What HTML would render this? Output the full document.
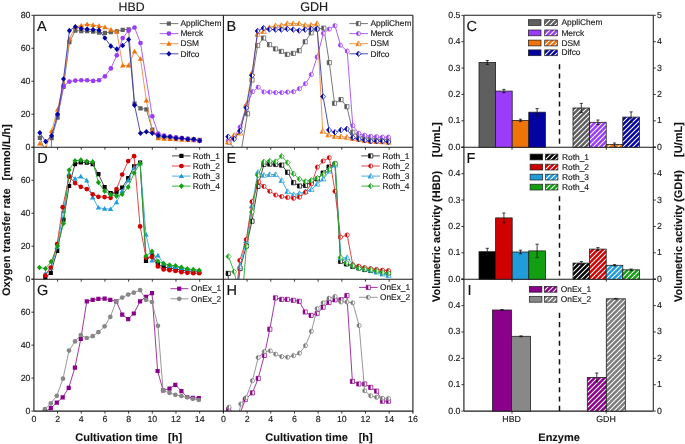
<!DOCTYPE html>
<html><head><meta charset="utf-8"><title>Figure</title>
<style>
html,body{margin:0;padding:0;background:#fff;}
body{width:685px;height:444px;overflow:hidden;}
svg{display:block;font-family:"Liberation Sans", sans-serif;will-change:transform;text-rendering:geometricPrecision;}
</style></head><body>
<svg width="685" height="444" viewBox="0 0 685 444"><defs><clipPath id="c00"><rect x="33.9" y="15.3" width="189.5" height="131.9"/></clipPath><clipPath id="c01"><rect x="33.9" y="147.2" width="189.5" height="132"/></clipPath><clipPath id="c02"><rect x="33.9" y="279.2" width="189.5" height="131.9"/></clipPath><clipPath id="c10"><rect x="223.4" y="15.3" width="189.5" height="131.9"/></clipPath><clipPath id="c11"><rect x="223.4" y="147.2" width="189.5" height="132"/></clipPath><clipPath id="c12"><rect x="223.4" y="279.2" width="189.5" height="131.9"/></clipPath><pattern id="hGray" patternUnits="userSpaceOnUse" width="5.0" height="5.0"><rect width="5.0" height="5.0" fill="#5e5e5e"/><path d="M-1,1 L1,-1 M0,5.0 L5.0,0 M4.0,6.0 L6.0,4.0" stroke="#ffffff" stroke-width="1.1"/></pattern><pattern id="hVio" patternUnits="userSpaceOnUse" width="5.0" height="5.0"><rect width="5.0" height="5.0" fill="#9a3cfa"/><path d="M-1,1 L1,-1 M0,5.0 L5.0,0 M4.0,6.0 L6.0,4.0" stroke="#ffffff" stroke-width="1.1"/></pattern><pattern id="hOra" patternUnits="userSpaceOnUse" width="5.0" height="5.0"><rect width="5.0" height="5.0" fill="#f07308"/><path d="M-1,1 L1,-1 M0,5.0 L5.0,0 M4.0,6.0 L6.0,4.0" stroke="#ffffff" stroke-width="1.1"/></pattern><pattern id="hNav" patternUnits="userSpaceOnUse" width="5.0" height="5.0"><rect width="5.0" height="5.0" fill="#0303a2"/><path d="M-1,1 L1,-1 M0,5.0 L5.0,0 M4.0,6.0 L6.0,4.0" stroke="#ffffff" stroke-width="1.1"/></pattern><pattern id="hBlk" patternUnits="userSpaceOnUse" width="5.0" height="5.0"><rect width="5.0" height="5.0" fill="#000000"/><path d="M-1,1 L1,-1 M0,5.0 L5.0,0 M4.0,6.0 L6.0,4.0" stroke="#ffffff" stroke-width="1.1"/></pattern><pattern id="hRed" patternUnits="userSpaceOnUse" width="5.0" height="5.0"><rect width="5.0" height="5.0" fill="#d10000"/><path d="M-1,1 L1,-1 M0,5.0 L5.0,0 M4.0,6.0 L6.0,4.0" stroke="#ffffff" stroke-width="1.1"/></pattern><pattern id="hCya" patternUnits="userSpaceOnUse" width="5.0" height="5.0"><rect width="5.0" height="5.0" fill="#1f9cd9"/><path d="M-1,1 L1,-1 M0,5.0 L5.0,0 M4.0,6.0 L6.0,4.0" stroke="#ffffff" stroke-width="1.1"/></pattern><pattern id="hGrn" patternUnits="userSpaceOnUse" width="5.0" height="5.0"><rect width="5.0" height="5.0" fill="#12a012"/><path d="M-1,1 L1,-1 M0,5.0 L5.0,0 M4.0,6.0 L6.0,4.0" stroke="#ffffff" stroke-width="1.1"/></pattern><pattern id="hMag" patternUnits="userSpaceOnUse" width="5.0" height="5.0"><rect width="5.0" height="5.0" fill="#8a008a"/><path d="M-1,1 L1,-1 M0,5.0 L5.0,0 M4.0,6.0 L6.0,4.0" stroke="#ffffff" stroke-width="1.1"/></pattern><pattern id="hGr2" patternUnits="userSpaceOnUse" width="5.0" height="5.0"><rect width="5.0" height="5.0" fill="#7c7c7c"/><path d="M-1,1 L1,-1 M0,5.0 L5.0,0 M4.0,6.0 L6.0,4.0" stroke="#ffffff" stroke-width="1.1"/></pattern></defs><rect width="685" height="444" fill="#ffffff"/><g clip-path="url(#c00)"><path d="M39.82,137.8 L45.74,152.15 L51.07,152.15 L51.66,138.13 L57.58,117.69 L63.5,87.02 L69.42,42.17 L75.34,30.63 L81.26,31.13 L87.18,31.13 L93.1,31.62 L99.02,32.61 L104.94,32.94 L110.86,32.12 L116.78,31.46 L122.7,29.81 L128.62,29.31 L134.54,103.51 L140.46,108.45 L146.38,109.44 L152.3,129.56 L158.22,136.81 L164.14,137.31 L170.06,137.64 L175.98,138.13 L181.9,138.46 L187.82,138.96 L193.74,139.29 L199.66,139.78" fill="none" stroke="#6a6a6a" stroke-width="0.9" stroke-linejoin="round"/><polygon points="37.72,135.7 41.92,135.7 41.92,139.9 37.72,139.9" fill="#5f5f5f"/><polygon points="43.64,150.05 47.84,150.05 47.84,154.25 43.64,154.25" fill="#5f5f5f"/><polygon points="49.56,136.03 53.76,136.03 53.76,140.23 49.56,140.23" fill="#5f5f5f"/><polygon points="55.48,115.59 59.68,115.59 59.68,119.79 55.48,119.79" fill="#5f5f5f"/><polygon points="61.4,84.92 65.6,84.92 65.6,89.12 61.4,89.12" fill="#5f5f5f"/><polygon points="67.32,40.07 71.52,40.07 71.52,44.27 67.32,44.27" fill="#5f5f5f"/><polygon points="73.24,28.53 77.44,28.53 77.44,32.73 73.24,32.73" fill="#5f5f5f"/><polygon points="79.16,29.03 83.36,29.03 83.36,33.23 79.16,33.23" fill="#5f5f5f"/><polygon points="85.08,29.03 89.28,29.03 89.28,33.23 85.08,33.23" fill="#5f5f5f"/><polygon points="91,29.52 95.2,29.52 95.2,33.72 91,33.72" fill="#5f5f5f"/><polygon points="96.92,30.51 101.12,30.51 101.12,34.71 96.92,34.71" fill="#5f5f5f"/><polygon points="102.84,30.84 107.04,30.84 107.04,35.04 102.84,35.04" fill="#5f5f5f"/><polygon points="108.76,30.02 112.96,30.02 112.96,34.22 108.76,34.22" fill="#5f5f5f"/><polygon points="114.68,29.36 118.88,29.36 118.88,33.56 114.68,33.56" fill="#5f5f5f"/><polygon points="120.6,27.71 124.8,27.71 124.8,31.91 120.6,31.91" fill="#5f5f5f"/><polygon points="126.52,27.21 130.72,27.21 130.72,31.41 126.52,31.41" fill="#5f5f5f"/><polygon points="132.44,101.41 136.64,101.41 136.64,105.61 132.44,105.61" fill="#5f5f5f"/><polygon points="138.36,106.35 142.56,106.35 142.56,110.55 138.36,110.55" fill="#5f5f5f"/><polygon points="144.28,107.34 148.48,107.34 148.48,111.54 144.28,111.54" fill="#5f5f5f"/><polygon points="150.2,127.46 154.4,127.46 154.4,131.66 150.2,131.66" fill="#5f5f5f"/><polygon points="156.12,134.71 160.32,134.71 160.32,138.91 156.12,138.91" fill="#5f5f5f"/><polygon points="162.04,135.21 166.24,135.21 166.24,139.41 162.04,139.41" fill="#5f5f5f"/><polygon points="167.96,135.54 172.16,135.54 172.16,139.74 167.96,139.74" fill="#5f5f5f"/><polygon points="173.88,136.03 178.08,136.03 178.08,140.23 173.88,140.23" fill="#5f5f5f"/><polygon points="179.8,136.36 184,136.36 184,140.56 179.8,140.56" fill="#5f5f5f"/><polygon points="185.72,136.86 189.92,136.86 189.92,141.06 185.72,141.06" fill="#5f5f5f"/><polygon points="191.64,137.19 195.84,137.19 195.84,141.39 191.64,141.39" fill="#5f5f5f"/><polygon points="197.56,137.68 201.76,137.68 201.76,141.88 197.56,141.88" fill="#5f5f5f"/></g><g clip-path="url(#c00)"><path d="M39.82,143.57 L45.74,148.02 L51.66,131.04 L57.58,109.44 L63.5,83.56 L69.42,38.88 L75.34,27.01 L81.26,25.52 L87.18,24.2 L93.1,25.03 L99.02,26.02 L104.94,27.17 L110.86,29.81 L116.78,31.79 L122.7,65.42 L128.62,65.42 L134.54,51.41 L140.46,58.83 L146.38,100.54 L152.3,130.71 L158.22,138.13 L164.14,138.63 L170.06,138.96 L175.98,139.29 L181.9,139.62 L187.82,139.95 L193.74,140.28 L199.66,140.6" fill="none" stroke="#ef8a3a" stroke-width="0.9" stroke-linejoin="round"/><polygon points="39.82,140.87 42.52,145.6 37.12,145.6" fill="#f07308"/><polygon points="45.74,145.32 48.44,150.05 43.04,150.05" fill="#f07308"/><polygon points="51.66,128.34 54.36,133.07 48.96,133.07" fill="#f07308"/><polygon points="57.58,106.74 60.28,111.47 54.88,111.47" fill="#f07308"/><polygon points="63.5,80.86 66.2,85.58 60.8,85.58" fill="#f07308"/><polygon points="69.42,36.18 72.12,40.9 66.72,40.9" fill="#f07308"/><polygon points="75.34,24.31 78.04,29.03 72.64,29.03" fill="#f07308"/><polygon points="81.26,22.82 83.96,27.55 78.56,27.55" fill="#f07308"/><polygon points="87.18,21.5 89.88,26.23 84.48,26.23" fill="#f07308"/><polygon points="93.1,22.33 95.8,27.05 90.4,27.05" fill="#f07308"/><polygon points="99.02,23.32 101.72,28.04 96.32,28.04" fill="#f07308"/><polygon points="104.94,24.47 107.64,29.2 102.24,29.2" fill="#f07308"/><polygon points="110.86,27.11 113.56,31.83 108.16,31.83" fill="#f07308"/><polygon points="116.78,29.09 119.48,33.81 114.08,33.81" fill="#f07308"/><polygon points="122.7,62.72 125.4,67.45 120,67.45" fill="#f07308"/><polygon points="128.62,62.72 131.32,67.45 125.92,67.45" fill="#f07308"/><polygon points="134.54,48.71 137.24,53.43 131.84,53.43" fill="#f07308"/><polygon points="140.46,56.13 143.16,60.85 137.76,60.85" fill="#f07308"/><polygon points="146.38,97.84 149.08,102.57 143.68,102.57" fill="#f07308"/><polygon points="152.3,128.01 155,132.74 149.6,132.74" fill="#f07308"/><polygon points="158.22,135.43 160.92,140.16 155.52,140.16" fill="#f07308"/><polygon points="164.14,135.93 166.84,140.65 161.44,140.65" fill="#f07308"/><polygon points="170.06,136.26 172.76,140.98 167.36,140.98" fill="#f07308"/><polygon points="175.98,136.59 178.68,141.31 173.28,141.31" fill="#f07308"/><polygon points="181.9,136.92 184.6,141.64 179.2,141.64" fill="#f07308"/><polygon points="187.82,137.25 190.52,141.97 185.12,141.97" fill="#f07308"/><polygon points="193.74,137.58 196.44,142.3 191.04,142.3" fill="#f07308"/><polygon points="199.66,137.91 202.36,142.63 196.96,142.63" fill="#f07308"/></g><g clip-path="url(#c00)"><path d="M57.58,114.55 L63.5,86.2 L69.42,81.58 L75.34,80.59 L81.26,80.26 L87.18,80.26 L93.1,80.92 L99.02,80.26 L104.94,76.3 L110.86,68.39 L116.78,55.36 L122.7,38.05 L128.62,30.63 L134.54,27.5 L140.46,43 L152.3,116.37 L158.22,133.52 L164.14,135.66 L170.06,136.48 L175.98,137.31 L181.9,138.13 L187.82,138.96 L193.74,139.78 L199.66,140.6" fill="none" stroke="#a550f5" stroke-width="0.9" stroke-linejoin="round"/><circle cx="57.58" cy="114.55" r="2.35" fill="#9a3cfa"/><circle cx="63.5" cy="86.2" r="2.35" fill="#9a3cfa"/><circle cx="69.42" cy="81.58" r="2.35" fill="#9a3cfa"/><circle cx="75.34" cy="80.59" r="2.35" fill="#9a3cfa"/><circle cx="81.26" cy="80.26" r="2.35" fill="#9a3cfa"/><circle cx="87.18" cy="80.26" r="2.35" fill="#9a3cfa"/><circle cx="93.1" cy="80.92" r="2.35" fill="#9a3cfa"/><circle cx="99.02" cy="80.26" r="2.35" fill="#9a3cfa"/><circle cx="104.94" cy="76.3" r="2.35" fill="#9a3cfa"/><circle cx="110.86" cy="68.39" r="2.35" fill="#9a3cfa"/><circle cx="116.78" cy="55.36" r="2.35" fill="#9a3cfa"/><circle cx="122.7" cy="38.05" r="2.35" fill="#9a3cfa"/><circle cx="128.62" cy="30.63" r="2.35" fill="#9a3cfa"/><circle cx="134.54" cy="27.5" r="2.35" fill="#9a3cfa"/><circle cx="140.46" cy="43" r="2.35" fill="#9a3cfa"/><circle cx="152.3" cy="116.37" r="2.35" fill="#9a3cfa"/><circle cx="158.22" cy="133.52" r="2.35" fill="#9a3cfa"/><circle cx="164.14" cy="135.66" r="2.35" fill="#9a3cfa"/><circle cx="170.06" cy="136.48" r="2.35" fill="#9a3cfa"/><circle cx="175.98" cy="137.31" r="2.35" fill="#9a3cfa"/><circle cx="181.9" cy="138.13" r="2.35" fill="#9a3cfa"/><circle cx="187.82" cy="138.96" r="2.35" fill="#9a3cfa"/><circle cx="193.74" cy="139.78" r="2.35" fill="#9a3cfa"/><circle cx="199.66" cy="140.6" r="2.35" fill="#9a3cfa"/></g><g clip-path="url(#c00)"><path d="M39.82,132.86 L45.74,141.59 L51.66,135.66 L57.58,114.22 L63.5,78.94 L69.42,30.63 L75.34,26.68 L81.26,28.49 L87.18,29.15 L93.1,29.64 L99.02,30.14 L104.94,38.05 L110.86,46.13 L116.78,49.1 L122.7,45.47 L128.62,39.54 L134.54,105.16 L140.46,133.19 L146.38,131.7 L152.3,133.19 L158.22,135.49 L164.14,136.48 L170.06,136.81 L175.98,138.13 L181.9,138.3 L187.82,139.29 L193.74,139.29 L199.66,140.77" fill="none" stroke="#3a3aa8" stroke-width="0.9" stroke-linejoin="round"/><polygon points="39.82,130.06 42.34,132.86 39.82,135.66 37.3,132.86" fill="#0303a2"/><polygon points="45.74,138.79 48.26,141.59 45.74,144.39 43.22,141.59" fill="#0303a2"/><polygon points="51.66,132.86 54.18,135.66 51.66,138.46 49.14,135.66" fill="#0303a2"/><polygon points="57.58,111.42 60.1,114.22 57.58,117.02 55.06,114.22" fill="#0303a2"/><polygon points="63.5,76.14 66.02,78.94 63.5,81.74 60.98,78.94" fill="#0303a2"/><polygon points="69.42,27.83 71.94,30.63 69.42,33.43 66.9,30.63" fill="#0303a2"/><polygon points="75.34,23.88 77.86,26.68 75.34,29.48 72.82,26.68" fill="#0303a2"/><polygon points="81.26,25.69 83.78,28.49 81.26,31.29 78.74,28.49" fill="#0303a2"/><polygon points="87.18,26.35 89.7,29.15 87.18,31.95 84.66,29.15" fill="#0303a2"/><polygon points="93.1,26.84 95.62,29.64 93.1,32.44 90.58,29.64" fill="#0303a2"/><polygon points="99.02,27.34 101.54,30.14 99.02,32.94 96.5,30.14" fill="#0303a2"/><polygon points="104.94,35.25 107.46,38.05 104.94,40.85 102.42,38.05" fill="#0303a2"/><polygon points="110.86,43.33 113.38,46.13 110.86,48.93 108.34,46.13" fill="#0303a2"/><polygon points="116.78,46.3 119.3,49.1 116.78,51.9 114.26,49.1" fill="#0303a2"/><polygon points="122.7,42.67 125.22,45.47 122.7,48.27 120.18,45.47" fill="#0303a2"/><polygon points="128.62,36.74 131.14,39.54 128.62,42.34 126.1,39.54" fill="#0303a2"/><polygon points="134.54,102.36 137.06,105.16 134.54,107.96 132.02,105.16" fill="#0303a2"/><polygon points="140.46,130.39 142.98,133.19 140.46,135.99 137.94,133.19" fill="#0303a2"/><polygon points="146.38,128.9 148.9,131.7 146.38,134.5 143.86,131.7" fill="#0303a2"/><polygon points="152.3,130.39 154.82,133.19 152.3,135.99 149.78,133.19" fill="#0303a2"/><polygon points="158.22,132.69 160.74,135.49 158.22,138.29 155.7,135.49" fill="#0303a2"/><polygon points="164.14,133.68 166.66,136.48 164.14,139.28 161.62,136.48" fill="#0303a2"/><polygon points="170.06,134.01 172.58,136.81 170.06,139.61 167.54,136.81" fill="#0303a2"/><polygon points="175.98,135.33 178.5,138.13 175.98,140.93 173.46,138.13" fill="#0303a2"/><polygon points="181.9,135.5 184.42,138.3 181.9,141.1 179.38,138.3" fill="#0303a2"/><polygon points="187.82,136.49 190.34,139.29 187.82,142.09 185.3,139.29" fill="#0303a2"/><polygon points="193.74,136.49 196.26,139.29 193.74,142.09 191.22,139.29" fill="#0303a2"/><polygon points="199.66,137.97 202.18,140.77 199.66,143.57 197.14,140.77" fill="#0303a2"/></g><g clip-path="url(#c10)"><path d="M229,142 L235,149 L241.5,149 L247.5,113.7 L252,80 L257.6,45.5 L263.6,38 L269.5,44.7 L275.5,48.9 L281.4,51.4 L287.3,54.4 L293.3,53.4 L299.2,50.7 L305.2,41.8 L311.1,32.8 L317.1,29 L323.8,28.1 L329.3,62.6 L334.5,103.3 L341,99.6 L346.9,106.7 L352.8,132.3 L358.8,136 L364.7,137.5 L370.7,138.5 L376.6,139 L382.5,139.5 L388.5,140" fill="none" stroke="#6a6a6a" stroke-width="0.9" stroke-linejoin="round"/><polygon points="226.9,139.9 231.1,139.9 231.1,144.1 226.9,144.1" fill="#fff" stroke="#555555" stroke-width="0.7"/><polygon points="226.9,139.9 229,139.9 229,144.1 226.9,144.1" fill="#555555"/><polygon points="245.4,111.6 249.6,111.6 249.6,115.8 245.4,115.8" fill="#fff" stroke="#555555" stroke-width="0.7"/><polygon points="245.4,111.6 247.5,111.6 247.5,115.8 245.4,115.8" fill="#555555"/><polygon points="249.9,77.9 254.1,77.9 254.1,82.1 249.9,82.1" fill="#fff" stroke="#555555" stroke-width="0.7"/><polygon points="249.9,77.9 252,77.9 252,82.1 249.9,82.1" fill="#555555"/><polygon points="255.5,43.4 259.7,43.4 259.7,47.6 255.5,47.6" fill="#fff" stroke="#555555" stroke-width="0.7"/><polygon points="255.5,43.4 257.6,43.4 257.6,47.6 255.5,47.6" fill="#555555"/><polygon points="261.5,35.9 265.7,35.9 265.7,40.1 261.5,40.1" fill="#fff" stroke="#555555" stroke-width="0.7"/><polygon points="261.5,35.9 263.6,35.9 263.6,40.1 261.5,40.1" fill="#555555"/><polygon points="267.4,42.6 271.6,42.6 271.6,46.8 267.4,46.8" fill="#fff" stroke="#555555" stroke-width="0.7"/><polygon points="267.4,42.6 269.5,42.6 269.5,46.8 267.4,46.8" fill="#555555"/><polygon points="273.4,46.8 277.6,46.8 277.6,51 273.4,51" fill="#fff" stroke="#555555" stroke-width="0.7"/><polygon points="273.4,46.8 275.5,46.8 275.5,51 273.4,51" fill="#555555"/><polygon points="279.3,49.3 283.5,49.3 283.5,53.5 279.3,53.5" fill="#fff" stroke="#555555" stroke-width="0.7"/><polygon points="279.3,49.3 281.4,49.3 281.4,53.5 279.3,53.5" fill="#555555"/><polygon points="285.2,52.3 289.4,52.3 289.4,56.5 285.2,56.5" fill="#fff" stroke="#555555" stroke-width="0.7"/><polygon points="285.2,52.3 287.3,52.3 287.3,56.5 285.2,56.5" fill="#555555"/><polygon points="291.2,51.3 295.4,51.3 295.4,55.5 291.2,55.5" fill="#fff" stroke="#555555" stroke-width="0.7"/><polygon points="291.2,51.3 293.3,51.3 293.3,55.5 291.2,55.5" fill="#555555"/><polygon points="297.1,48.6 301.3,48.6 301.3,52.8 297.1,52.8" fill="#fff" stroke="#555555" stroke-width="0.7"/><polygon points="297.1,48.6 299.2,48.6 299.2,52.8 297.1,52.8" fill="#555555"/><polygon points="303.1,39.7 307.3,39.7 307.3,43.9 303.1,43.9" fill="#fff" stroke="#555555" stroke-width="0.7"/><polygon points="303.1,39.7 305.2,39.7 305.2,43.9 303.1,43.9" fill="#555555"/><polygon points="309,30.7 313.2,30.7 313.2,34.9 309,34.9" fill="#fff" stroke="#555555" stroke-width="0.7"/><polygon points="309,30.7 311.1,30.7 311.1,34.9 309,34.9" fill="#555555"/><polygon points="315,26.9 319.2,26.9 319.2,31.1 315,31.1" fill="#fff" stroke="#555555" stroke-width="0.7"/><polygon points="315,26.9 317.1,26.9 317.1,31.1 315,31.1" fill="#555555"/><polygon points="321.7,26 325.9,26 325.9,30.2 321.7,30.2" fill="#fff" stroke="#555555" stroke-width="0.7"/><polygon points="321.7,26 323.8,26 323.8,30.2 321.7,30.2" fill="#555555"/><polygon points="327.2,60.5 331.4,60.5 331.4,64.7 327.2,64.7" fill="#fff" stroke="#555555" stroke-width="0.7"/><polygon points="327.2,60.5 329.3,60.5 329.3,64.7 327.2,64.7" fill="#555555"/><polygon points="332.4,101.2 336.6,101.2 336.6,105.4 332.4,105.4" fill="#fff" stroke="#555555" stroke-width="0.7"/><polygon points="332.4,101.2 334.5,101.2 334.5,105.4 332.4,105.4" fill="#555555"/><polygon points="338.9,97.5 343.1,97.5 343.1,101.7 338.9,101.7" fill="#fff" stroke="#555555" stroke-width="0.7"/><polygon points="338.9,97.5 341,97.5 341,101.7 338.9,101.7" fill="#555555"/><polygon points="344.8,104.6 349,104.6 349,108.8 344.8,108.8" fill="#fff" stroke="#555555" stroke-width="0.7"/><polygon points="344.8,104.6 346.9,104.6 346.9,108.8 344.8,108.8" fill="#555555"/><polygon points="350.7,130.2 354.9,130.2 354.9,134.4 350.7,134.4" fill="#fff" stroke="#555555" stroke-width="0.7"/><polygon points="350.7,130.2 352.8,130.2 352.8,134.4 350.7,134.4" fill="#555555"/><polygon points="356.7,133.9 360.9,133.9 360.9,138.1 356.7,138.1" fill="#fff" stroke="#555555" stroke-width="0.7"/><polygon points="356.7,133.9 358.8,133.9 358.8,138.1 356.7,138.1" fill="#555555"/><polygon points="362.6,135.4 366.8,135.4 366.8,139.6 362.6,139.6" fill="#fff" stroke="#555555" stroke-width="0.7"/><polygon points="362.6,135.4 364.7,135.4 364.7,139.6 362.6,139.6" fill="#555555"/><polygon points="368.6,136.4 372.8,136.4 372.8,140.6 368.6,140.6" fill="#fff" stroke="#555555" stroke-width="0.7"/><polygon points="368.6,136.4 370.7,136.4 370.7,140.6 368.6,140.6" fill="#555555"/><polygon points="374.5,136.9 378.7,136.9 378.7,141.1 374.5,141.1" fill="#fff" stroke="#555555" stroke-width="0.7"/><polygon points="374.5,136.9 376.6,136.9 376.6,141.1 374.5,141.1" fill="#555555"/><polygon points="380.4,137.4 384.6,137.4 384.6,141.6 380.4,141.6" fill="#fff" stroke="#555555" stroke-width="0.7"/><polygon points="380.4,137.4 382.5,137.4 382.5,141.6 380.4,141.6" fill="#555555"/><polygon points="386.4,137.9 390.6,137.9 390.6,142.1 386.4,142.1" fill="#fff" stroke="#555555" stroke-width="0.7"/><polygon points="386.4,137.9 388.5,137.9 388.5,142.1 386.4,142.1" fill="#555555"/></g><g clip-path="url(#c10)"><path d="M228.2,141 L234.1,137 L240.1,127.1 L246.3,106 L252.7,91.7 L258.2,87.2 L263.9,91.9 L269.8,92.1 L275.7,92.6 L281.7,92.6 L287.6,92.1 L293.6,91.7 L299.5,88.7 L305.5,83.7 L311.4,74.5 L317.1,57 L323.4,33.3 L329.3,29.1 L335,25.7 L340.5,45.2 L347.2,51.1 L352.8,125.6 L358.8,133.3 L364.7,135.3 L370.7,136.3 L376.6,136.7 L382.5,137.2 L388.5,137.2" fill="none" stroke="#a550f5" stroke-width="0.9" stroke-linejoin="round"/><circle cx="228.2" cy="141" r="2.1" fill="#fff" stroke="#9a3cfa" stroke-width="0.7"/><path d="M228.2,138.9 A2.1,2.1 0 0 0 228.2,143.1 Z" fill="#9a3cfa"/><circle cx="234.1" cy="137" r="2.1" fill="#fff" stroke="#9a3cfa" stroke-width="0.7"/><path d="M234.1,134.9 A2.1,2.1 0 0 0 234.1,139.1 Z" fill="#9a3cfa"/><circle cx="240.1" cy="127.1" r="2.1" fill="#fff" stroke="#9a3cfa" stroke-width="0.7"/><path d="M240.1,125 A2.1,2.1 0 0 0 240.1,129.2 Z" fill="#9a3cfa"/><circle cx="246.3" cy="106" r="2.1" fill="#fff" stroke="#9a3cfa" stroke-width="0.7"/><path d="M246.3,103.9 A2.1,2.1 0 0 0 246.3,108.1 Z" fill="#9a3cfa"/><circle cx="252.7" cy="91.7" r="2.1" fill="#fff" stroke="#9a3cfa" stroke-width="0.7"/><path d="M252.7,89.6 A2.1,2.1 0 0 0 252.7,93.8 Z" fill="#9a3cfa"/><circle cx="258.2" cy="87.2" r="2.1" fill="#fff" stroke="#9a3cfa" stroke-width="0.7"/><path d="M258.2,85.1 A2.1,2.1 0 0 0 258.2,89.3 Z" fill="#9a3cfa"/><circle cx="263.9" cy="91.9" r="2.1" fill="#fff" stroke="#9a3cfa" stroke-width="0.7"/><path d="M263.9,89.8 A2.1,2.1 0 0 0 263.9,94 Z" fill="#9a3cfa"/><circle cx="269.8" cy="92.1" r="2.1" fill="#fff" stroke="#9a3cfa" stroke-width="0.7"/><path d="M269.8,90 A2.1,2.1 0 0 0 269.8,94.2 Z" fill="#9a3cfa"/><circle cx="275.7" cy="92.6" r="2.1" fill="#fff" stroke="#9a3cfa" stroke-width="0.7"/><path d="M275.7,90.5 A2.1,2.1 0 0 0 275.7,94.7 Z" fill="#9a3cfa"/><circle cx="281.7" cy="92.6" r="2.1" fill="#fff" stroke="#9a3cfa" stroke-width="0.7"/><path d="M281.7,90.5 A2.1,2.1 0 0 0 281.7,94.7 Z" fill="#9a3cfa"/><circle cx="287.6" cy="92.1" r="2.1" fill="#fff" stroke="#9a3cfa" stroke-width="0.7"/><path d="M287.6,90 A2.1,2.1 0 0 0 287.6,94.2 Z" fill="#9a3cfa"/><circle cx="293.6" cy="91.7" r="2.1" fill="#fff" stroke="#9a3cfa" stroke-width="0.7"/><path d="M293.6,89.6 A2.1,2.1 0 0 0 293.6,93.8 Z" fill="#9a3cfa"/><circle cx="299.5" cy="88.7" r="2.1" fill="#fff" stroke="#9a3cfa" stroke-width="0.7"/><path d="M299.5,86.6 A2.1,2.1 0 0 0 299.5,90.8 Z" fill="#9a3cfa"/><circle cx="305.5" cy="83.7" r="2.1" fill="#fff" stroke="#9a3cfa" stroke-width="0.7"/><path d="M305.5,81.6 A2.1,2.1 0 0 0 305.5,85.8 Z" fill="#9a3cfa"/><circle cx="311.4" cy="74.5" r="2.1" fill="#fff" stroke="#9a3cfa" stroke-width="0.7"/><path d="M311.4,72.4 A2.1,2.1 0 0 0 311.4,76.6 Z" fill="#9a3cfa"/><circle cx="317.1" cy="57" r="2.1" fill="#fff" stroke="#9a3cfa" stroke-width="0.7"/><path d="M317.1,54.9 A2.1,2.1 0 0 0 317.1,59.1 Z" fill="#9a3cfa"/><circle cx="323.4" cy="33.3" r="2.1" fill="#fff" stroke="#9a3cfa" stroke-width="0.7"/><path d="M323.4,31.2 A2.1,2.1 0 0 0 323.4,35.4 Z" fill="#9a3cfa"/><circle cx="329.3" cy="29.1" r="2.1" fill="#fff" stroke="#9a3cfa" stroke-width="0.7"/><path d="M329.3,27 A2.1,2.1 0 0 0 329.3,31.2 Z" fill="#9a3cfa"/><circle cx="335" cy="25.7" r="2.1" fill="#fff" stroke="#9a3cfa" stroke-width="0.7"/><path d="M335,23.6 A2.1,2.1 0 0 0 335,27.8 Z" fill="#9a3cfa"/><circle cx="340.5" cy="45.2" r="2.1" fill="#fff" stroke="#9a3cfa" stroke-width="0.7"/><path d="M340.5,43.1 A2.1,2.1 0 0 0 340.5,47.3 Z" fill="#9a3cfa"/><circle cx="347.2" cy="51.1" r="2.1" fill="#fff" stroke="#9a3cfa" stroke-width="0.7"/><path d="M347.2,49 A2.1,2.1 0 0 0 347.2,53.2 Z" fill="#9a3cfa"/><circle cx="352.8" cy="125.6" r="2.1" fill="#fff" stroke="#9a3cfa" stroke-width="0.7"/><path d="M352.8,123.5 A2.1,2.1 0 0 0 352.8,127.7 Z" fill="#9a3cfa"/><circle cx="358.8" cy="133.3" r="2.1" fill="#fff" stroke="#9a3cfa" stroke-width="0.7"/><path d="M358.8,131.2 A2.1,2.1 0 0 0 358.8,135.4 Z" fill="#9a3cfa"/><circle cx="364.7" cy="135.3" r="2.1" fill="#fff" stroke="#9a3cfa" stroke-width="0.7"/><path d="M364.7,133.2 A2.1,2.1 0 0 0 364.7,137.4 Z" fill="#9a3cfa"/><circle cx="370.7" cy="136.3" r="2.1" fill="#fff" stroke="#9a3cfa" stroke-width="0.7"/><path d="M370.7,134.2 A2.1,2.1 0 0 0 370.7,138.4 Z" fill="#9a3cfa"/><circle cx="376.6" cy="136.7" r="2.1" fill="#fff" stroke="#9a3cfa" stroke-width="0.7"/><path d="M376.6,134.6 A2.1,2.1 0 0 0 376.6,138.8 Z" fill="#9a3cfa"/><circle cx="382.5" cy="137.2" r="2.1" fill="#fff" stroke="#9a3cfa" stroke-width="0.7"/><path d="M382.5,135.1 A2.1,2.1 0 0 0 382.5,139.3 Z" fill="#9a3cfa"/><circle cx="388.5" cy="137.2" r="2.1" fill="#fff" stroke="#9a3cfa" stroke-width="0.7"/><path d="M388.5,135.1 A2.1,2.1 0 0 0 388.5,139.3 Z" fill="#9a3cfa"/></g><g clip-path="url(#c10)"><path d="M228.2,142 L234.1,135.3 L240.1,133 L246.3,104.8 L252,73 L257.6,34.3 L263.6,31.4 L269.5,27.6 L275.5,25.7 L281.4,25.4 L287.3,23.6 L293.3,23.6 L299.2,23.6 L305.2,25.1 L311.1,25.1 L317.1,23.6 L322.7,131.2 L328.6,134.8 L335,136.3 L341,136.7 L346.9,137.2 L352.8,138.5 L358.8,139.5 L364.7,140.5 L370.7,141.2 L376.6,141.5 L382.5,141.8 L388.5,142.2" fill="none" stroke="#ef8a3a" stroke-width="0.9" stroke-linejoin="round"/><polygon points="228.2,139.3 230.9,144.03 225.5,144.03" fill="#fff" stroke="#f07308" stroke-width="0.7"/><polygon points="228.2,139.3 228.2,144.03 225.5,144.03" fill="#f07308"/><polygon points="234.1,132.6 236.8,137.33 231.4,137.33" fill="#fff" stroke="#f07308" stroke-width="0.7"/><polygon points="234.1,132.6 234.1,137.33 231.4,137.33" fill="#f07308"/><polygon points="240.1,130.3 242.8,135.03 237.4,135.03" fill="#fff" stroke="#f07308" stroke-width="0.7"/><polygon points="240.1,130.3 240.1,135.03 237.4,135.03" fill="#f07308"/><polygon points="246.3,102.1 249,106.83 243.6,106.83" fill="#fff" stroke="#f07308" stroke-width="0.7"/><polygon points="246.3,102.1 246.3,106.83 243.6,106.83" fill="#f07308"/><polygon points="252,70.3 254.7,75.03 249.3,75.03" fill="#fff" stroke="#f07308" stroke-width="0.7"/><polygon points="252,70.3 252,75.03 249.3,75.03" fill="#f07308"/><polygon points="257.6,31.6 260.3,36.32 254.9,36.32" fill="#fff" stroke="#f07308" stroke-width="0.7"/><polygon points="257.6,31.6 257.6,36.32 254.9,36.32" fill="#f07308"/><polygon points="263.6,28.7 266.3,33.42 260.9,33.42" fill="#fff" stroke="#f07308" stroke-width="0.7"/><polygon points="263.6,28.7 263.6,33.42 260.9,33.42" fill="#f07308"/><polygon points="269.5,24.9 272.2,29.62 266.8,29.62" fill="#fff" stroke="#f07308" stroke-width="0.7"/><polygon points="269.5,24.9 269.5,29.62 266.8,29.62" fill="#f07308"/><polygon points="275.5,23 278.2,27.73 272.8,27.73" fill="#fff" stroke="#f07308" stroke-width="0.7"/><polygon points="275.5,23 275.5,27.73 272.8,27.73" fill="#f07308"/><polygon points="281.4,22.7 284.1,27.42 278.7,27.42" fill="#fff" stroke="#f07308" stroke-width="0.7"/><polygon points="281.4,22.7 281.4,27.42 278.7,27.42" fill="#f07308"/><polygon points="287.3,20.9 290,25.62 284.6,25.62" fill="#fff" stroke="#f07308" stroke-width="0.7"/><polygon points="287.3,20.9 287.3,25.62 284.6,25.62" fill="#f07308"/><polygon points="293.3,20.9 296,25.62 290.6,25.62" fill="#fff" stroke="#f07308" stroke-width="0.7"/><polygon points="293.3,20.9 293.3,25.62 290.6,25.62" fill="#f07308"/><polygon points="299.2,20.9 301.9,25.62 296.5,25.62" fill="#fff" stroke="#f07308" stroke-width="0.7"/><polygon points="299.2,20.9 299.2,25.62 296.5,25.62" fill="#f07308"/><polygon points="305.2,22.4 307.9,27.12 302.5,27.12" fill="#fff" stroke="#f07308" stroke-width="0.7"/><polygon points="305.2,22.4 305.2,27.12 302.5,27.12" fill="#f07308"/><polygon points="311.1,22.4 313.8,27.12 308.4,27.12" fill="#fff" stroke="#f07308" stroke-width="0.7"/><polygon points="311.1,22.4 311.1,27.12 308.4,27.12" fill="#f07308"/><polygon points="317.1,20.9 319.8,25.62 314.4,25.62" fill="#fff" stroke="#f07308" stroke-width="0.7"/><polygon points="317.1,20.9 317.1,25.62 314.4,25.62" fill="#f07308"/><polygon points="322.7,128.5 325.4,133.22 320,133.22" fill="#fff" stroke="#f07308" stroke-width="0.7"/><polygon points="322.7,128.5 322.7,133.22 320,133.22" fill="#f07308"/><polygon points="328.6,132.1 331.3,136.83 325.9,136.83" fill="#fff" stroke="#f07308" stroke-width="0.7"/><polygon points="328.6,132.1 328.6,136.83 325.9,136.83" fill="#f07308"/><polygon points="335,133.6 337.7,138.33 332.3,138.33" fill="#fff" stroke="#f07308" stroke-width="0.7"/><polygon points="335,133.6 335,138.33 332.3,138.33" fill="#f07308"/><polygon points="341,134 343.7,138.72 338.3,138.72" fill="#fff" stroke="#f07308" stroke-width="0.7"/><polygon points="341,134 341,138.72 338.3,138.72" fill="#f07308"/><polygon points="346.9,134.5 349.6,139.22 344.2,139.22" fill="#fff" stroke="#f07308" stroke-width="0.7"/><polygon points="346.9,134.5 346.9,139.22 344.2,139.22" fill="#f07308"/><polygon points="352.8,135.8 355.5,140.53 350.1,140.53" fill="#fff" stroke="#f07308" stroke-width="0.7"/><polygon points="352.8,135.8 352.8,140.53 350.1,140.53" fill="#f07308"/><polygon points="358.8,136.8 361.5,141.53 356.1,141.53" fill="#fff" stroke="#f07308" stroke-width="0.7"/><polygon points="358.8,136.8 358.8,141.53 356.1,141.53" fill="#f07308"/><polygon points="364.7,137.8 367.4,142.53 362,142.53" fill="#fff" stroke="#f07308" stroke-width="0.7"/><polygon points="364.7,137.8 364.7,142.53 362,142.53" fill="#f07308"/><polygon points="370.7,138.5 373.4,143.22 368,143.22" fill="#fff" stroke="#f07308" stroke-width="0.7"/><polygon points="370.7,138.5 370.7,143.22 368,143.22" fill="#f07308"/><polygon points="376.6,138.8 379.3,143.53 373.9,143.53" fill="#fff" stroke="#f07308" stroke-width="0.7"/><polygon points="376.6,138.8 376.6,143.53 373.9,143.53" fill="#f07308"/><polygon points="382.5,139.1 385.2,143.83 379.8,143.83" fill="#fff" stroke="#f07308" stroke-width="0.7"/><polygon points="382.5,139.1 382.5,143.83 379.8,143.83" fill="#f07308"/><polygon points="388.5,139.5 391.2,144.22 385.8,144.22" fill="#fff" stroke="#f07308" stroke-width="0.7"/><polygon points="388.5,139.5 388.5,144.22 385.8,144.22" fill="#f07308"/></g><g clip-path="url(#c10)"><path d="M228.2,136.7 L234.1,139 L240.1,130.8 L246.3,107.8 L252,75.5 L257.6,31 L263.6,28.1 L269.5,29.4 L275.5,29.6 L281.4,29.6 L287.3,28.9 L293.3,29.6 L299.2,30.6 L305.2,29.6 L311.1,29 L317.1,29 L323.1,96.6 L329,130 L335,132.3 L341,130 L346.9,129 L352.8,137.5 L358.8,139 L364.7,140.2 L370.7,141.2 L376.6,141.2 L382.5,141.2 L388.5,142" fill="none" stroke="#3a3aa8" stroke-width="0.9" stroke-linejoin="round"/><polygon points="228.2,133.9 230.72,136.7 228.2,139.5 225.68,136.7" fill="#fff" stroke="#0303a2" stroke-width="0.7"/><polygon points="228.2,133.9 228.2,139.5 225.68,136.7" fill="#0303a2"/><polygon points="234.1,136.2 236.62,139 234.1,141.8 231.58,139" fill="#fff" stroke="#0303a2" stroke-width="0.7"/><polygon points="234.1,136.2 234.1,141.8 231.58,139" fill="#0303a2"/><polygon points="240.1,128 242.62,130.8 240.1,133.6 237.58,130.8" fill="#fff" stroke="#0303a2" stroke-width="0.7"/><polygon points="240.1,128 240.1,133.6 237.58,130.8" fill="#0303a2"/><polygon points="246.3,105 248.82,107.8 246.3,110.6 243.78,107.8" fill="#fff" stroke="#0303a2" stroke-width="0.7"/><polygon points="246.3,105 246.3,110.6 243.78,107.8" fill="#0303a2"/><polygon points="252,72.7 254.52,75.5 252,78.3 249.48,75.5" fill="#fff" stroke="#0303a2" stroke-width="0.7"/><polygon points="252,72.7 252,78.3 249.48,75.5" fill="#0303a2"/><polygon points="257.6,28.2 260.12,31 257.6,33.8 255.08,31" fill="#fff" stroke="#0303a2" stroke-width="0.7"/><polygon points="257.6,28.2 257.6,33.8 255.08,31" fill="#0303a2"/><polygon points="263.6,25.3 266.12,28.1 263.6,30.9 261.08,28.1" fill="#fff" stroke="#0303a2" stroke-width="0.7"/><polygon points="263.6,25.3 263.6,30.9 261.08,28.1" fill="#0303a2"/><polygon points="269.5,26.6 272.02,29.4 269.5,32.2 266.98,29.4" fill="#fff" stroke="#0303a2" stroke-width="0.7"/><polygon points="269.5,26.6 269.5,32.2 266.98,29.4" fill="#0303a2"/><polygon points="275.5,26.8 278.02,29.6 275.5,32.4 272.98,29.6" fill="#fff" stroke="#0303a2" stroke-width="0.7"/><polygon points="275.5,26.8 275.5,32.4 272.98,29.6" fill="#0303a2"/><polygon points="281.4,26.8 283.92,29.6 281.4,32.4 278.88,29.6" fill="#fff" stroke="#0303a2" stroke-width="0.7"/><polygon points="281.4,26.8 281.4,32.4 278.88,29.6" fill="#0303a2"/><polygon points="287.3,26.1 289.82,28.9 287.3,31.7 284.78,28.9" fill="#fff" stroke="#0303a2" stroke-width="0.7"/><polygon points="287.3,26.1 287.3,31.7 284.78,28.9" fill="#0303a2"/><polygon points="293.3,26.8 295.82,29.6 293.3,32.4 290.78,29.6" fill="#fff" stroke="#0303a2" stroke-width="0.7"/><polygon points="293.3,26.8 293.3,32.4 290.78,29.6" fill="#0303a2"/><polygon points="299.2,27.8 301.72,30.6 299.2,33.4 296.68,30.6" fill="#fff" stroke="#0303a2" stroke-width="0.7"/><polygon points="299.2,27.8 299.2,33.4 296.68,30.6" fill="#0303a2"/><polygon points="305.2,26.8 307.72,29.6 305.2,32.4 302.68,29.6" fill="#fff" stroke="#0303a2" stroke-width="0.7"/><polygon points="305.2,26.8 305.2,32.4 302.68,29.6" fill="#0303a2"/><polygon points="311.1,26.2 313.62,29 311.1,31.8 308.58,29" fill="#fff" stroke="#0303a2" stroke-width="0.7"/><polygon points="311.1,26.2 311.1,31.8 308.58,29" fill="#0303a2"/><polygon points="317.1,26.2 319.62,29 317.1,31.8 314.58,29" fill="#fff" stroke="#0303a2" stroke-width="0.7"/><polygon points="317.1,26.2 317.1,31.8 314.58,29" fill="#0303a2"/><polygon points="323.1,93.8 325.62,96.6 323.1,99.4 320.58,96.6" fill="#fff" stroke="#0303a2" stroke-width="0.7"/><polygon points="323.1,93.8 323.1,99.4 320.58,96.6" fill="#0303a2"/><polygon points="329,127.2 331.52,130 329,132.8 326.48,130" fill="#fff" stroke="#0303a2" stroke-width="0.7"/><polygon points="329,127.2 329,132.8 326.48,130" fill="#0303a2"/><polygon points="335,129.5 337.52,132.3 335,135.1 332.48,132.3" fill="#fff" stroke="#0303a2" stroke-width="0.7"/><polygon points="335,129.5 335,135.1 332.48,132.3" fill="#0303a2"/><polygon points="341,127.2 343.52,130 341,132.8 338.48,130" fill="#fff" stroke="#0303a2" stroke-width="0.7"/><polygon points="341,127.2 341,132.8 338.48,130" fill="#0303a2"/><polygon points="346.9,126.2 349.42,129 346.9,131.8 344.38,129" fill="#fff" stroke="#0303a2" stroke-width="0.7"/><polygon points="346.9,126.2 346.9,131.8 344.38,129" fill="#0303a2"/><polygon points="352.8,134.7 355.32,137.5 352.8,140.3 350.28,137.5" fill="#fff" stroke="#0303a2" stroke-width="0.7"/><polygon points="352.8,134.7 352.8,140.3 350.28,137.5" fill="#0303a2"/><polygon points="358.8,136.2 361.32,139 358.8,141.8 356.28,139" fill="#fff" stroke="#0303a2" stroke-width="0.7"/><polygon points="358.8,136.2 358.8,141.8 356.28,139" fill="#0303a2"/><polygon points="364.7,137.4 367.22,140.2 364.7,143 362.18,140.2" fill="#fff" stroke="#0303a2" stroke-width="0.7"/><polygon points="364.7,137.4 364.7,143 362.18,140.2" fill="#0303a2"/><polygon points="370.7,138.4 373.22,141.2 370.7,144 368.18,141.2" fill="#fff" stroke="#0303a2" stroke-width="0.7"/><polygon points="370.7,138.4 370.7,144 368.18,141.2" fill="#0303a2"/><polygon points="376.6,138.4 379.12,141.2 376.6,144 374.08,141.2" fill="#fff" stroke="#0303a2" stroke-width="0.7"/><polygon points="376.6,138.4 376.6,144 374.08,141.2" fill="#0303a2"/><polygon points="382.5,138.4 385.02,141.2 382.5,144 379.98,141.2" fill="#fff" stroke="#0303a2" stroke-width="0.7"/><polygon points="382.5,138.4 382.5,144 379.98,141.2" fill="#0303a2"/><polygon points="388.5,139.2 391.02,142 388.5,144.8 385.98,142" fill="#fff" stroke="#0303a2" stroke-width="0.7"/><polygon points="388.5,139.2 388.5,144.8 385.98,142" fill="#0303a2"/></g><g clip-path="url(#c01)"><path d="M45.3,278 L50.8,272.8 L57.2,250.9 L63.5,219.7 L69.1,186 L75.05,164.1 L80.8,162.3 L86.8,162.6 L92.7,164.1 L98.4,174.2 L104.6,187.1 L110.6,193.1 L116.5,192.3 L122.2,187.6 L128.2,178.2 L134.1,166.3 L140.1,162.6 L146,260.9 L152,255.4 L157.9,264 L163.6,267 L169.5,268 L175.5,269 L181.4,270 L187.3,271 L193.3,271.5 L199.2,272" fill="none" stroke="#333333" stroke-width="0.9" stroke-linejoin="round"/><polygon points="43.2,275.9 47.4,275.9 47.4,280.1 43.2,280.1" fill="#000000"/><polygon points="48.7,270.7 52.9,270.7 52.9,274.9 48.7,274.9" fill="#000000"/><polygon points="55.1,248.8 59.3,248.8 59.3,253 55.1,253" fill="#000000"/><polygon points="61.4,217.6 65.6,217.6 65.6,221.8 61.4,221.8" fill="#000000"/><polygon points="67,183.9 71.2,183.9 71.2,188.1 67,188.1" fill="#000000"/><polygon points="72.95,162 77.15,162 77.15,166.2 72.95,166.2" fill="#000000"/><polygon points="78.7,160.2 82.9,160.2 82.9,164.4 78.7,164.4" fill="#000000"/><polygon points="84.7,160.5 88.9,160.5 88.9,164.7 84.7,164.7" fill="#000000"/><polygon points="90.6,162 94.8,162 94.8,166.2 90.6,166.2" fill="#000000"/><polygon points="96.3,172.1 100.5,172.1 100.5,176.3 96.3,176.3" fill="#000000"/><polygon points="102.5,185 106.7,185 106.7,189.2 102.5,189.2" fill="#000000"/><polygon points="108.5,191 112.7,191 112.7,195.2 108.5,195.2" fill="#000000"/><polygon points="114.4,190.2 118.6,190.2 118.6,194.4 114.4,194.4" fill="#000000"/><polygon points="120.1,185.5 124.3,185.5 124.3,189.7 120.1,189.7" fill="#000000"/><polygon points="126.1,176.1 130.3,176.1 130.3,180.3 126.1,180.3" fill="#000000"/><polygon points="132,164.2 136.2,164.2 136.2,168.4 132,168.4" fill="#000000"/><polygon points="138,160.5 142.2,160.5 142.2,164.7 138,164.7" fill="#000000"/><polygon points="143.9,258.8 148.1,258.8 148.1,263 143.9,263" fill="#000000"/><polygon points="149.9,253.3 154.1,253.3 154.1,257.5 149.9,257.5" fill="#000000"/><polygon points="155.8,261.9 160,261.9 160,266.1 155.8,266.1" fill="#000000"/><polygon points="161.5,264.9 165.7,264.9 165.7,269.1 161.5,269.1" fill="#000000"/><polygon points="167.4,265.9 171.6,265.9 171.6,270.1 167.4,270.1" fill="#000000"/><polygon points="173.4,266.9 177.6,266.9 177.6,271.1 173.4,271.1" fill="#000000"/><polygon points="179.3,267.9 183.5,267.9 183.5,272.1 179.3,272.1" fill="#000000"/><polygon points="185.2,268.9 189.4,268.9 189.4,273.1 185.2,273.1" fill="#000000"/><polygon points="191.2,269.4 195.4,269.4 195.4,273.6 191.2,273.6" fill="#000000"/><polygon points="197.1,269.9 201.3,269.9 201.3,274.1 197.1,274.1" fill="#000000"/></g><g clip-path="url(#c01)"><path d="M45.3,273.8 L51,268 L57.1,247 L63.5,211.2 L69.1,173.8 L75.05,178.7 L80.8,176.4 L86.8,180.4 L92.7,197.5 L98.4,207.6 L104.6,208.7 L110.6,209.1 L116.5,202.3 L122.2,191 L128.2,180.4 L134.1,167.8 L140.1,163.4 L146,234.6 L152,260.6 L157.9,255.4 L163.6,263.5 L169.5,266 L175.5,267 L181.4,268 L187.3,269.5 L193.3,270.5 L199.2,271.5" fill="none" stroke="#3aa6dc" stroke-width="0.9" stroke-linejoin="round"/><polygon points="45.3,271.1 48,275.82 42.6,275.82" fill="#1f9cd9"/><polygon points="51,265.3 53.7,270.02 48.3,270.02" fill="#1f9cd9"/><polygon points="57.1,244.3 59.8,249.03 54.4,249.03" fill="#1f9cd9"/><polygon points="63.5,208.5 66.2,213.22 60.8,213.22" fill="#1f9cd9"/><polygon points="69.1,171.1 71.8,175.83 66.4,175.83" fill="#1f9cd9"/><polygon points="75.05,176 77.75,180.72 72.35,180.72" fill="#1f9cd9"/><polygon points="80.8,173.7 83.5,178.43 78.1,178.43" fill="#1f9cd9"/><polygon points="86.8,177.7 89.5,182.43 84.1,182.43" fill="#1f9cd9"/><polygon points="92.7,194.8 95.4,199.53 90,199.53" fill="#1f9cd9"/><polygon points="98.4,204.9 101.1,209.62 95.7,209.62" fill="#1f9cd9"/><polygon points="104.6,206 107.3,210.72 101.9,210.72" fill="#1f9cd9"/><polygon points="110.6,206.4 113.3,211.12 107.9,211.12" fill="#1f9cd9"/><polygon points="116.5,199.6 119.2,204.33 113.8,204.33" fill="#1f9cd9"/><polygon points="122.2,188.3 124.9,193.03 119.5,193.03" fill="#1f9cd9"/><polygon points="128.2,177.7 130.9,182.43 125.5,182.43" fill="#1f9cd9"/><polygon points="134.1,165.1 136.8,169.83 131.4,169.83" fill="#1f9cd9"/><polygon points="140.1,160.7 142.8,165.43 137.4,165.43" fill="#1f9cd9"/><polygon points="146,231.9 148.7,236.62 143.3,236.62" fill="#1f9cd9"/><polygon points="152,257.9 154.7,262.62 149.3,262.62" fill="#1f9cd9"/><polygon points="157.9,252.7 160.6,257.43 155.2,257.43" fill="#1f9cd9"/><polygon points="163.6,260.8 166.3,265.52 160.9,265.52" fill="#1f9cd9"/><polygon points="169.5,263.3 172.2,268.02 166.8,268.02" fill="#1f9cd9"/><polygon points="175.5,264.3 178.2,269.02 172.8,269.02" fill="#1f9cd9"/><polygon points="181.4,265.3 184.1,270.02 178.7,270.02" fill="#1f9cd9"/><polygon points="187.3,266.8 190,271.52 184.6,271.52" fill="#1f9cd9"/><polygon points="193.3,267.8 196,272.52 190.6,272.52" fill="#1f9cd9"/><polygon points="199.2,268.8 201.9,273.52 196.5,273.52" fill="#1f9cd9"/></g><g clip-path="url(#c01)"><path d="M45.3,275.6 L50.7,267.5 L57.1,244 L62.7,207.2 L69.1,176.7 L75.05,183.1 L80.8,186.8 L86.8,189.1 L92.7,194.3 L98.4,196.8 L104.6,197.1 L110.6,197.8 L116.5,189.1 L122.2,174.5 L128.2,161.1 L134.1,156.2 L140.1,226.4 L146,257.6 L152,256.9 L157.9,266.5 L163.6,269.5 L169.5,270.2 L175.5,271 L181.4,272.2 L187.3,272.8 L193.3,273.2 L199.2,273.2" fill="none" stroke="#dd3333" stroke-width="0.9" stroke-linejoin="round"/><circle cx="45.3" cy="275.6" r="2.35" fill="#d10000"/><circle cx="50.7" cy="267.5" r="2.35" fill="#d10000"/><circle cx="57.1" cy="244" r="2.35" fill="#d10000"/><circle cx="62.7" cy="207.2" r="2.35" fill="#d10000"/><circle cx="69.1" cy="176.7" r="2.35" fill="#d10000"/><circle cx="75.05" cy="183.1" r="2.35" fill="#d10000"/><circle cx="80.8" cy="186.8" r="2.35" fill="#d10000"/><circle cx="86.8" cy="189.1" r="2.35" fill="#d10000"/><circle cx="92.7" cy="194.3" r="2.35" fill="#d10000"/><circle cx="98.4" cy="196.8" r="2.35" fill="#d10000"/><circle cx="104.6" cy="197.1" r="2.35" fill="#d10000"/><circle cx="110.6" cy="197.8" r="2.35" fill="#d10000"/><circle cx="116.5" cy="189.1" r="2.35" fill="#d10000"/><circle cx="122.2" cy="174.5" r="2.35" fill="#d10000"/><circle cx="128.2" cy="161.1" r="2.35" fill="#d10000"/><circle cx="134.1" cy="156.2" r="2.35" fill="#d10000"/><circle cx="140.1" cy="226.4" r="2.35" fill="#d10000"/><circle cx="146" cy="257.6" r="2.35" fill="#d10000"/><circle cx="152" cy="256.9" r="2.35" fill="#d10000"/><circle cx="157.9" cy="266.5" r="2.35" fill="#d10000"/><circle cx="163.6" cy="269.5" r="2.35" fill="#d10000"/><circle cx="169.5" cy="270.2" r="2.35" fill="#d10000"/><circle cx="175.5" cy="271" r="2.35" fill="#d10000"/><circle cx="181.4" cy="272.2" r="2.35" fill="#d10000"/><circle cx="187.3" cy="272.8" r="2.35" fill="#d10000"/><circle cx="193.3" cy="273.2" r="2.35" fill="#d10000"/><circle cx="199.2" cy="273.2" r="2.35" fill="#d10000"/></g><g clip-path="url(#c01)"><path d="M39.4,267.5 L45.5,268.6 L51.1,261.6 L57.6,245.9 L63.5,223.4 L69.1,170 L75.05,160.8 L80.8,160.1 L86.8,161.4 L92.7,161.9 L98.4,182.4 L104.6,191.1 L110.6,194.6 L116.5,196.1 L122.2,194.3 L128.2,187.1 L134.1,173 L140.1,163.4 L146,256.1 L152,251.4 L157.9,261.3 L163.6,263.5 L169.5,265 L175.5,265.8 L181.4,267.3 L187.3,268.7 L193.3,269.5 L199.2,270.2" fill="none" stroke="#2aa82a" stroke-width="0.9" stroke-linejoin="round"/><polygon points="39.4,264.7 41.92,267.5 39.4,270.3 36.88,267.5" fill="#12a012"/><polygon points="45.5,265.8 48.02,268.6 45.5,271.4 42.98,268.6" fill="#12a012"/><polygon points="51.1,258.8 53.62,261.6 51.1,264.4 48.58,261.6" fill="#12a012"/><polygon points="57.6,243.1 60.12,245.9 57.6,248.7 55.08,245.9" fill="#12a012"/><polygon points="63.5,220.6 66.02,223.4 63.5,226.2 60.98,223.4" fill="#12a012"/><polygon points="69.1,167.2 71.62,170 69.1,172.8 66.58,170" fill="#12a012"/><polygon points="75.05,158 77.57,160.8 75.05,163.6 72.53,160.8" fill="#12a012"/><polygon points="80.8,157.3 83.32,160.1 80.8,162.9 78.28,160.1" fill="#12a012"/><polygon points="86.8,158.6 89.32,161.4 86.8,164.2 84.28,161.4" fill="#12a012"/><polygon points="92.7,159.1 95.22,161.9 92.7,164.7 90.18,161.9" fill="#12a012"/><polygon points="98.4,179.6 100.92,182.4 98.4,185.2 95.88,182.4" fill="#12a012"/><polygon points="104.6,188.3 107.12,191.1 104.6,193.9 102.08,191.1" fill="#12a012"/><polygon points="110.6,191.8 113.12,194.6 110.6,197.4 108.08,194.6" fill="#12a012"/><polygon points="116.5,193.3 119.02,196.1 116.5,198.9 113.98,196.1" fill="#12a012"/><polygon points="122.2,191.5 124.72,194.3 122.2,197.1 119.68,194.3" fill="#12a012"/><polygon points="128.2,184.3 130.72,187.1 128.2,189.9 125.68,187.1" fill="#12a012"/><polygon points="134.1,170.2 136.62,173 134.1,175.8 131.58,173" fill="#12a012"/><polygon points="140.1,160.6 142.62,163.4 140.1,166.2 137.58,163.4" fill="#12a012"/><polygon points="146,253.3 148.52,256.1 146,258.9 143.48,256.1" fill="#12a012"/><polygon points="152,248.6 154.52,251.4 152,254.2 149.48,251.4" fill="#12a012"/><polygon points="157.9,258.5 160.42,261.3 157.9,264.1 155.38,261.3" fill="#12a012"/><polygon points="163.6,260.7 166.12,263.5 163.6,266.3 161.08,263.5" fill="#12a012"/><polygon points="169.5,262.2 172.02,265 169.5,267.8 166.98,265" fill="#12a012"/><polygon points="175.5,263 178.02,265.8 175.5,268.6 172.98,265.8" fill="#12a012"/><polygon points="181.4,264.5 183.92,267.3 181.4,270.1 178.88,267.3" fill="#12a012"/><polygon points="187.3,265.9 189.82,268.7 187.3,271.5 184.78,268.7" fill="#12a012"/><polygon points="193.3,266.7 195.82,269.5 193.3,272.3 190.78,269.5" fill="#12a012"/><polygon points="199.2,267.4 201.72,270.2 199.2,273 196.68,270.2" fill="#12a012"/></g><g clip-path="url(#c11)"><path d="M228.2,273.4 L228.6,290 L237.5,290 L240.1,268.5 L246.3,246 L252,221.2 L257.9,186.4 L263.9,164.5 L269.8,164.1 L275.7,164.5 L281.7,165.1 L287.6,172.3 L293.6,182.7 L299.5,186 L305.5,185.4 L311.4,181.9 L317.4,179 L323.1,173 L329,167 L335,164 L340.5,261.3 L346.4,264 L352.8,266.5 L358.8,268 L364.7,269.5 L370.7,270.5 L376.6,271.5 L382.5,272.5 L388.5,273" fill="none" stroke="#333333" stroke-width="0.9" stroke-linejoin="round"/><polygon points="226.1,271.3 230.3,271.3 230.3,275.5 226.1,275.5" fill="#fff" stroke="#000000" stroke-width="0.7"/><polygon points="226.1,271.3 228.2,271.3 228.2,275.5 226.1,275.5" fill="#000000"/><polygon points="226.5,287.9 230.7,287.9 230.7,292.1 226.5,292.1" fill="#fff" stroke="#000000" stroke-width="0.7"/><polygon points="226.5,287.9 228.6,287.9 228.6,292.1 226.5,292.1" fill="#000000"/><polygon points="235.4,287.9 239.6,287.9 239.6,292.1 235.4,292.1" fill="#fff" stroke="#000000" stroke-width="0.7"/><polygon points="235.4,287.9 237.5,287.9 237.5,292.1 235.4,292.1" fill="#000000"/><polygon points="238,266.4 242.2,266.4 242.2,270.6 238,270.6" fill="#fff" stroke="#000000" stroke-width="0.7"/><polygon points="238,266.4 240.1,266.4 240.1,270.6 238,270.6" fill="#000000"/><polygon points="244.2,243.9 248.4,243.9 248.4,248.1 244.2,248.1" fill="#fff" stroke="#000000" stroke-width="0.7"/><polygon points="244.2,243.9 246.3,243.9 246.3,248.1 244.2,248.1" fill="#000000"/><polygon points="249.9,219.1 254.1,219.1 254.1,223.3 249.9,223.3" fill="#fff" stroke="#000000" stroke-width="0.7"/><polygon points="249.9,219.1 252,219.1 252,223.3 249.9,223.3" fill="#000000"/><polygon points="255.8,184.3 260,184.3 260,188.5 255.8,188.5" fill="#fff" stroke="#000000" stroke-width="0.7"/><polygon points="255.8,184.3 257.9,184.3 257.9,188.5 255.8,188.5" fill="#000000"/><polygon points="261.8,162.4 266,162.4 266,166.6 261.8,166.6" fill="#fff" stroke="#000000" stroke-width="0.7"/><polygon points="261.8,162.4 263.9,162.4 263.9,166.6 261.8,166.6" fill="#000000"/><polygon points="267.7,162 271.9,162 271.9,166.2 267.7,166.2" fill="#fff" stroke="#000000" stroke-width="0.7"/><polygon points="267.7,162 269.8,162 269.8,166.2 267.7,166.2" fill="#000000"/><polygon points="273.6,162.4 277.8,162.4 277.8,166.6 273.6,166.6" fill="#fff" stroke="#000000" stroke-width="0.7"/><polygon points="273.6,162.4 275.7,162.4 275.7,166.6 273.6,166.6" fill="#000000"/><polygon points="279.6,163 283.8,163 283.8,167.2 279.6,167.2" fill="#fff" stroke="#000000" stroke-width="0.7"/><polygon points="279.6,163 281.7,163 281.7,167.2 279.6,167.2" fill="#000000"/><polygon points="285.5,170.2 289.7,170.2 289.7,174.4 285.5,174.4" fill="#fff" stroke="#000000" stroke-width="0.7"/><polygon points="285.5,170.2 287.6,170.2 287.6,174.4 285.5,174.4" fill="#000000"/><polygon points="291.5,180.6 295.7,180.6 295.7,184.8 291.5,184.8" fill="#fff" stroke="#000000" stroke-width="0.7"/><polygon points="291.5,180.6 293.6,180.6 293.6,184.8 291.5,184.8" fill="#000000"/><polygon points="297.4,183.9 301.6,183.9 301.6,188.1 297.4,188.1" fill="#fff" stroke="#000000" stroke-width="0.7"/><polygon points="297.4,183.9 299.5,183.9 299.5,188.1 297.4,188.1" fill="#000000"/><polygon points="303.4,183.3 307.6,183.3 307.6,187.5 303.4,187.5" fill="#fff" stroke="#000000" stroke-width="0.7"/><polygon points="303.4,183.3 305.5,183.3 305.5,187.5 303.4,187.5" fill="#000000"/><polygon points="309.3,179.8 313.5,179.8 313.5,184 309.3,184" fill="#fff" stroke="#000000" stroke-width="0.7"/><polygon points="309.3,179.8 311.4,179.8 311.4,184 309.3,184" fill="#000000"/><polygon points="315.3,176.9 319.5,176.9 319.5,181.1 315.3,181.1" fill="#fff" stroke="#000000" stroke-width="0.7"/><polygon points="315.3,176.9 317.4,176.9 317.4,181.1 315.3,181.1" fill="#000000"/><polygon points="321,170.9 325.2,170.9 325.2,175.1 321,175.1" fill="#fff" stroke="#000000" stroke-width="0.7"/><polygon points="321,170.9 323.1,170.9 323.1,175.1 321,175.1" fill="#000000"/><polygon points="326.9,164.9 331.1,164.9 331.1,169.1 326.9,169.1" fill="#fff" stroke="#000000" stroke-width="0.7"/><polygon points="326.9,164.9 329,164.9 329,169.1 326.9,169.1" fill="#000000"/><polygon points="332.9,161.9 337.1,161.9 337.1,166.1 332.9,166.1" fill="#fff" stroke="#000000" stroke-width="0.7"/><polygon points="332.9,161.9 335,161.9 335,166.1 332.9,166.1" fill="#000000"/><polygon points="338.4,259.2 342.6,259.2 342.6,263.4 338.4,263.4" fill="#fff" stroke="#000000" stroke-width="0.7"/><polygon points="338.4,259.2 340.5,259.2 340.5,263.4 338.4,263.4" fill="#000000"/><polygon points="344.3,261.9 348.5,261.9 348.5,266.1 344.3,266.1" fill="#fff" stroke="#000000" stroke-width="0.7"/><polygon points="344.3,261.9 346.4,261.9 346.4,266.1 344.3,266.1" fill="#000000"/><polygon points="350.7,264.4 354.9,264.4 354.9,268.6 350.7,268.6" fill="#fff" stroke="#000000" stroke-width="0.7"/><polygon points="350.7,264.4 352.8,264.4 352.8,268.6 350.7,268.6" fill="#000000"/><polygon points="356.7,265.9 360.9,265.9 360.9,270.1 356.7,270.1" fill="#fff" stroke="#000000" stroke-width="0.7"/><polygon points="356.7,265.9 358.8,265.9 358.8,270.1 356.7,270.1" fill="#000000"/><polygon points="362.6,267.4 366.8,267.4 366.8,271.6 362.6,271.6" fill="#fff" stroke="#000000" stroke-width="0.7"/><polygon points="362.6,267.4 364.7,267.4 364.7,271.6 362.6,271.6" fill="#000000"/><polygon points="368.6,268.4 372.8,268.4 372.8,272.6 368.6,272.6" fill="#fff" stroke="#000000" stroke-width="0.7"/><polygon points="368.6,268.4 370.7,268.4 370.7,272.6 368.6,272.6" fill="#000000"/><polygon points="374.5,269.4 378.7,269.4 378.7,273.6 374.5,273.6" fill="#fff" stroke="#000000" stroke-width="0.7"/><polygon points="374.5,269.4 376.6,269.4 376.6,273.6 374.5,273.6" fill="#000000"/><polygon points="380.4,270.4 384.6,270.4 384.6,274.6 380.4,274.6" fill="#fff" stroke="#000000" stroke-width="0.7"/><polygon points="380.4,270.4 382.5,270.4 382.5,274.6 380.4,274.6" fill="#000000"/><polygon points="386.4,270.9 390.6,270.9 390.6,275.1 386.4,275.1" fill="#fff" stroke="#000000" stroke-width="0.7"/><polygon points="386.4,270.9 388.5,270.9 388.5,275.1 386.4,275.1" fill="#000000"/></g><g clip-path="url(#c11)"><path d="M237,290 L239.8,266.6 L246.3,241 L252,206 L257.9,172.3 L263.9,175.2 L269.8,174.5 L275.7,174.5 L281.7,180.4 L287.6,191.6 L293.6,194.6 L299.5,193.4 L305.5,191.6 L311.4,189.4 L317.4,184 L323.4,179 L329.3,171 L335,165 L341,258 L347.2,257.6 L352.8,264.5 L358.8,267 L364.7,268.5 L370.7,270 L376.6,272 L382.5,274 L388.5,275.4" fill="none" stroke="#3aa6dc" stroke-width="0.9" stroke-linejoin="round"/><polygon points="237,287.3 239.7,292.02 234.3,292.02" fill="#fff" stroke="#1f9cd9" stroke-width="0.7"/><polygon points="237,287.3 237,292.02 234.3,292.02" fill="#1f9cd9"/><polygon points="239.8,263.9 242.5,268.62 237.1,268.62" fill="#fff" stroke="#1f9cd9" stroke-width="0.7"/><polygon points="239.8,263.9 239.8,268.62 237.1,268.62" fill="#1f9cd9"/><polygon points="246.3,238.3 249,243.03 243.6,243.03" fill="#fff" stroke="#1f9cd9" stroke-width="0.7"/><polygon points="246.3,238.3 246.3,243.03 243.6,243.03" fill="#1f9cd9"/><polygon points="252,203.3 254.7,208.03 249.3,208.03" fill="#fff" stroke="#1f9cd9" stroke-width="0.7"/><polygon points="252,203.3 252,208.03 249.3,208.03" fill="#1f9cd9"/><polygon points="257.9,169.6 260.6,174.33 255.2,174.33" fill="#fff" stroke="#1f9cd9" stroke-width="0.7"/><polygon points="257.9,169.6 257.9,174.33 255.2,174.33" fill="#1f9cd9"/><polygon points="263.9,172.5 266.6,177.22 261.2,177.22" fill="#fff" stroke="#1f9cd9" stroke-width="0.7"/><polygon points="263.9,172.5 263.9,177.22 261.2,177.22" fill="#1f9cd9"/><polygon points="269.8,171.8 272.5,176.53 267.1,176.53" fill="#fff" stroke="#1f9cd9" stroke-width="0.7"/><polygon points="269.8,171.8 269.8,176.53 267.1,176.53" fill="#1f9cd9"/><polygon points="275.7,171.8 278.4,176.53 273,176.53" fill="#fff" stroke="#1f9cd9" stroke-width="0.7"/><polygon points="275.7,171.8 275.7,176.53 273,176.53" fill="#1f9cd9"/><polygon points="281.7,177.7 284.4,182.43 279,182.43" fill="#fff" stroke="#1f9cd9" stroke-width="0.7"/><polygon points="281.7,177.7 281.7,182.43 279,182.43" fill="#1f9cd9"/><polygon points="287.6,188.9 290.3,193.62 284.9,193.62" fill="#fff" stroke="#1f9cd9" stroke-width="0.7"/><polygon points="287.6,188.9 287.6,193.62 284.9,193.62" fill="#1f9cd9"/><polygon points="293.6,191.9 296.3,196.62 290.9,196.62" fill="#fff" stroke="#1f9cd9" stroke-width="0.7"/><polygon points="293.6,191.9 293.6,196.62 290.9,196.62" fill="#1f9cd9"/><polygon points="299.5,190.7 302.2,195.43 296.8,195.43" fill="#fff" stroke="#1f9cd9" stroke-width="0.7"/><polygon points="299.5,190.7 299.5,195.43 296.8,195.43" fill="#1f9cd9"/><polygon points="305.5,188.9 308.2,193.62 302.8,193.62" fill="#fff" stroke="#1f9cd9" stroke-width="0.7"/><polygon points="305.5,188.9 305.5,193.62 302.8,193.62" fill="#1f9cd9"/><polygon points="311.4,186.7 314.1,191.43 308.7,191.43" fill="#fff" stroke="#1f9cd9" stroke-width="0.7"/><polygon points="311.4,186.7 311.4,191.43 308.7,191.43" fill="#1f9cd9"/><polygon points="317.4,181.3 320.1,186.03 314.7,186.03" fill="#fff" stroke="#1f9cd9" stroke-width="0.7"/><polygon points="317.4,181.3 317.4,186.03 314.7,186.03" fill="#1f9cd9"/><polygon points="323.4,176.3 326.1,181.03 320.7,181.03" fill="#fff" stroke="#1f9cd9" stroke-width="0.7"/><polygon points="323.4,176.3 323.4,181.03 320.7,181.03" fill="#1f9cd9"/><polygon points="329.3,168.3 332,173.03 326.6,173.03" fill="#fff" stroke="#1f9cd9" stroke-width="0.7"/><polygon points="329.3,168.3 329.3,173.03 326.6,173.03" fill="#1f9cd9"/><polygon points="335,162.3 337.7,167.03 332.3,167.03" fill="#fff" stroke="#1f9cd9" stroke-width="0.7"/><polygon points="335,162.3 335,167.03 332.3,167.03" fill="#1f9cd9"/><polygon points="341,255.3 343.7,260.02 338.3,260.02" fill="#fff" stroke="#1f9cd9" stroke-width="0.7"/><polygon points="341,255.3 341,260.02 338.3,260.02" fill="#1f9cd9"/><polygon points="347.2,254.9 349.9,259.62 344.5,259.62" fill="#fff" stroke="#1f9cd9" stroke-width="0.7"/><polygon points="347.2,254.9 347.2,259.62 344.5,259.62" fill="#1f9cd9"/><polygon points="352.8,261.8 355.5,266.52 350.1,266.52" fill="#fff" stroke="#1f9cd9" stroke-width="0.7"/><polygon points="352.8,261.8 352.8,266.52 350.1,266.52" fill="#1f9cd9"/><polygon points="358.8,264.3 361.5,269.02 356.1,269.02" fill="#fff" stroke="#1f9cd9" stroke-width="0.7"/><polygon points="358.8,264.3 358.8,269.02 356.1,269.02" fill="#1f9cd9"/><polygon points="364.7,265.8 367.4,270.52 362,270.52" fill="#fff" stroke="#1f9cd9" stroke-width="0.7"/><polygon points="364.7,265.8 364.7,270.52 362,270.52" fill="#1f9cd9"/><polygon points="370.7,267.3 373.4,272.02 368,272.02" fill="#fff" stroke="#1f9cd9" stroke-width="0.7"/><polygon points="370.7,267.3 370.7,272.02 368,272.02" fill="#1f9cd9"/><polygon points="376.6,269.3 379.3,274.02 373.9,274.02" fill="#fff" stroke="#1f9cd9" stroke-width="0.7"/><polygon points="376.6,269.3 376.6,274.02 373.9,274.02" fill="#1f9cd9"/><polygon points="382.5,271.3 385.2,276.02 379.8,276.02" fill="#fff" stroke="#1f9cd9" stroke-width="0.7"/><polygon points="382.5,271.3 382.5,276.02 379.8,276.02" fill="#1f9cd9"/><polygon points="388.5,272.7 391.2,277.42 385.8,277.42" fill="#fff" stroke="#1f9cd9" stroke-width="0.7"/><polygon points="388.5,272.7 388.5,277.42 385.8,277.42" fill="#1f9cd9"/></g><g clip-path="url(#c11)"><path d="M236.5,290 L239.8,260.4 L246.3,239.5 L252,201.7 L258.7,181.9 L263.9,186.4 L269.8,191.3 L275.7,195 L281.7,196.5 L287.6,197.5 L293.6,198.3 L299.5,197.2 L305.5,192.3 L311.4,183.9 L317.4,167.1 L323.1,161.1 L329.3,157.7 L335,191.3 L340.5,237.2 L347.2,235 L352.8,265 L358.8,266.2 L364.7,267.7 L370.7,268.7 L376.6,269.5 L382.5,270.2 L388.5,270.7" fill="none" stroke="#dd3333" stroke-width="0.9" stroke-linejoin="round"/><circle cx="236.5" cy="290" r="2.1" fill="#fff" stroke="#d10000" stroke-width="0.7"/><path d="M236.5,287.9 A2.1,2.1 0 0 0 236.5,292.1 Z" fill="#d10000"/><circle cx="239.8" cy="260.4" r="2.1" fill="#fff" stroke="#d10000" stroke-width="0.7"/><path d="M239.8,258.3 A2.1,2.1 0 0 0 239.8,262.5 Z" fill="#d10000"/><circle cx="246.3" cy="239.5" r="2.1" fill="#fff" stroke="#d10000" stroke-width="0.7"/><path d="M246.3,237.4 A2.1,2.1 0 0 0 246.3,241.6 Z" fill="#d10000"/><circle cx="252" cy="201.7" r="2.1" fill="#fff" stroke="#d10000" stroke-width="0.7"/><path d="M252,199.6 A2.1,2.1 0 0 0 252,203.8 Z" fill="#d10000"/><circle cx="258.7" cy="181.9" r="2.1" fill="#fff" stroke="#d10000" stroke-width="0.7"/><path d="M258.7,179.8 A2.1,2.1 0 0 0 258.7,184 Z" fill="#d10000"/><circle cx="263.9" cy="186.4" r="2.1" fill="#fff" stroke="#d10000" stroke-width="0.7"/><path d="M263.9,184.3 A2.1,2.1 0 0 0 263.9,188.5 Z" fill="#d10000"/><circle cx="269.8" cy="191.3" r="2.1" fill="#fff" stroke="#d10000" stroke-width="0.7"/><path d="M269.8,189.2 A2.1,2.1 0 0 0 269.8,193.4 Z" fill="#d10000"/><circle cx="275.7" cy="195" r="2.1" fill="#fff" stroke="#d10000" stroke-width="0.7"/><path d="M275.7,192.9 A2.1,2.1 0 0 0 275.7,197.1 Z" fill="#d10000"/><circle cx="281.7" cy="196.5" r="2.1" fill="#fff" stroke="#d10000" stroke-width="0.7"/><path d="M281.7,194.4 A2.1,2.1 0 0 0 281.7,198.6 Z" fill="#d10000"/><circle cx="287.6" cy="197.5" r="2.1" fill="#fff" stroke="#d10000" stroke-width="0.7"/><path d="M287.6,195.4 A2.1,2.1 0 0 0 287.6,199.6 Z" fill="#d10000"/><circle cx="293.6" cy="198.3" r="2.1" fill="#fff" stroke="#d10000" stroke-width="0.7"/><path d="M293.6,196.2 A2.1,2.1 0 0 0 293.6,200.4 Z" fill="#d10000"/><circle cx="299.5" cy="197.2" r="2.1" fill="#fff" stroke="#d10000" stroke-width="0.7"/><path d="M299.5,195.1 A2.1,2.1 0 0 0 299.5,199.3 Z" fill="#d10000"/><circle cx="305.5" cy="192.3" r="2.1" fill="#fff" stroke="#d10000" stroke-width="0.7"/><path d="M305.5,190.2 A2.1,2.1 0 0 0 305.5,194.4 Z" fill="#d10000"/><circle cx="311.4" cy="183.9" r="2.1" fill="#fff" stroke="#d10000" stroke-width="0.7"/><path d="M311.4,181.8 A2.1,2.1 0 0 0 311.4,186 Z" fill="#d10000"/><circle cx="317.4" cy="167.1" r="2.1" fill="#fff" stroke="#d10000" stroke-width="0.7"/><path d="M317.4,165 A2.1,2.1 0 0 0 317.4,169.2 Z" fill="#d10000"/><circle cx="323.1" cy="161.1" r="2.1" fill="#fff" stroke="#d10000" stroke-width="0.7"/><path d="M323.1,159 A2.1,2.1 0 0 0 323.1,163.2 Z" fill="#d10000"/><circle cx="329.3" cy="157.7" r="2.1" fill="#fff" stroke="#d10000" stroke-width="0.7"/><path d="M329.3,155.6 A2.1,2.1 0 0 0 329.3,159.8 Z" fill="#d10000"/><circle cx="335" cy="191.3" r="2.1" fill="#fff" stroke="#d10000" stroke-width="0.7"/><path d="M335,189.2 A2.1,2.1 0 0 0 335,193.4 Z" fill="#d10000"/><circle cx="340.5" cy="237.2" r="2.1" fill="#fff" stroke="#d10000" stroke-width="0.7"/><path d="M340.5,235.1 A2.1,2.1 0 0 0 340.5,239.3 Z" fill="#d10000"/><circle cx="347.2" cy="235" r="2.1" fill="#fff" stroke="#d10000" stroke-width="0.7"/><path d="M347.2,232.9 A2.1,2.1 0 0 0 347.2,237.1 Z" fill="#d10000"/><circle cx="352.8" cy="265" r="2.1" fill="#fff" stroke="#d10000" stroke-width="0.7"/><path d="M352.8,262.9 A2.1,2.1 0 0 0 352.8,267.1 Z" fill="#d10000"/><circle cx="358.8" cy="266.2" r="2.1" fill="#fff" stroke="#d10000" stroke-width="0.7"/><path d="M358.8,264.1 A2.1,2.1 0 0 0 358.8,268.3 Z" fill="#d10000"/><circle cx="364.7" cy="267.7" r="2.1" fill="#fff" stroke="#d10000" stroke-width="0.7"/><path d="M364.7,265.6 A2.1,2.1 0 0 0 364.7,269.8 Z" fill="#d10000"/><circle cx="370.7" cy="268.7" r="2.1" fill="#fff" stroke="#d10000" stroke-width="0.7"/><path d="M370.7,266.6 A2.1,2.1 0 0 0 370.7,270.8 Z" fill="#d10000"/><circle cx="376.6" cy="269.5" r="2.1" fill="#fff" stroke="#d10000" stroke-width="0.7"/><path d="M376.6,267.4 A2.1,2.1 0 0 0 376.6,271.6 Z" fill="#d10000"/><circle cx="382.5" cy="270.2" r="2.1" fill="#fff" stroke="#d10000" stroke-width="0.7"/><path d="M382.5,268.1 A2.1,2.1 0 0 0 382.5,272.3 Z" fill="#d10000"/><circle cx="388.5" cy="270.7" r="2.1" fill="#fff" stroke="#d10000" stroke-width="0.7"/><path d="M388.5,268.6 A2.1,2.1 0 0 0 388.5,272.8 Z" fill="#d10000"/></g><g clip-path="url(#c11)"><path d="M228.5,256.5 L234.1,271.7 L236.6,282 L243.5,282 L246.5,246.3 L252,212 L257.9,175.2 L263.9,161.9 L269.8,161.1 L275.7,161.6 L281.7,156.2 L287.6,162.6 L293.6,173.8 L299.5,179 L305.5,181.5 L311.4,180.4 L317.4,178.2 L323.4,174.5 L329.3,169.3 L335.3,163.6 L340.5,257.6 L346.4,262.8 L352.8,265.8 L358.8,268.3 L364.7,269.2 L370.7,269.9 L376.6,271 L382.5,272.5 L388.5,273.2" fill="none" stroke="#2aa82a" stroke-width="0.9" stroke-linejoin="round"/><polygon points="228.5,253.7 231.02,256.5 228.5,259.3 225.98,256.5" fill="#fff" stroke="#12a012" stroke-width="0.7"/><polygon points="228.5,253.7 228.5,259.3 225.98,256.5" fill="#12a012"/><polygon points="234.1,268.9 236.62,271.7 234.1,274.5 231.58,271.7" fill="#fff" stroke="#12a012" stroke-width="0.7"/><polygon points="234.1,268.9 234.1,274.5 231.58,271.7" fill="#12a012"/><polygon points="243.5,279.2 246.02,282 243.5,284.8 240.98,282" fill="#fff" stroke="#12a012" stroke-width="0.7"/><polygon points="243.5,279.2 243.5,284.8 240.98,282" fill="#12a012"/><polygon points="246.5,243.5 249.02,246.3 246.5,249.1 243.98,246.3" fill="#fff" stroke="#12a012" stroke-width="0.7"/><polygon points="246.5,243.5 246.5,249.1 243.98,246.3" fill="#12a012"/><polygon points="252,209.2 254.52,212 252,214.8 249.48,212" fill="#fff" stroke="#12a012" stroke-width="0.7"/><polygon points="252,209.2 252,214.8 249.48,212" fill="#12a012"/><polygon points="257.9,172.4 260.42,175.2 257.9,178 255.38,175.2" fill="#fff" stroke="#12a012" stroke-width="0.7"/><polygon points="257.9,172.4 257.9,178 255.38,175.2" fill="#12a012"/><polygon points="263.9,159.1 266.42,161.9 263.9,164.7 261.38,161.9" fill="#fff" stroke="#12a012" stroke-width="0.7"/><polygon points="263.9,159.1 263.9,164.7 261.38,161.9" fill="#12a012"/><polygon points="269.8,158.3 272.32,161.1 269.8,163.9 267.28,161.1" fill="#fff" stroke="#12a012" stroke-width="0.7"/><polygon points="269.8,158.3 269.8,163.9 267.28,161.1" fill="#12a012"/><polygon points="275.7,158.8 278.22,161.6 275.7,164.4 273.18,161.6" fill="#fff" stroke="#12a012" stroke-width="0.7"/><polygon points="275.7,158.8 275.7,164.4 273.18,161.6" fill="#12a012"/><polygon points="281.7,153.4 284.22,156.2 281.7,159 279.18,156.2" fill="#fff" stroke="#12a012" stroke-width="0.7"/><polygon points="281.7,153.4 281.7,159 279.18,156.2" fill="#12a012"/><polygon points="287.6,159.8 290.12,162.6 287.6,165.4 285.08,162.6" fill="#fff" stroke="#12a012" stroke-width="0.7"/><polygon points="287.6,159.8 287.6,165.4 285.08,162.6" fill="#12a012"/><polygon points="293.6,171 296.12,173.8 293.6,176.6 291.08,173.8" fill="#fff" stroke="#12a012" stroke-width="0.7"/><polygon points="293.6,171 293.6,176.6 291.08,173.8" fill="#12a012"/><polygon points="299.5,176.2 302.02,179 299.5,181.8 296.98,179" fill="#fff" stroke="#12a012" stroke-width="0.7"/><polygon points="299.5,176.2 299.5,181.8 296.98,179" fill="#12a012"/><polygon points="305.5,178.7 308.02,181.5 305.5,184.3 302.98,181.5" fill="#fff" stroke="#12a012" stroke-width="0.7"/><polygon points="305.5,178.7 305.5,184.3 302.98,181.5" fill="#12a012"/><polygon points="311.4,177.6 313.92,180.4 311.4,183.2 308.88,180.4" fill="#fff" stroke="#12a012" stroke-width="0.7"/><polygon points="311.4,177.6 311.4,183.2 308.88,180.4" fill="#12a012"/><polygon points="317.4,175.4 319.92,178.2 317.4,181 314.88,178.2" fill="#fff" stroke="#12a012" stroke-width="0.7"/><polygon points="317.4,175.4 317.4,181 314.88,178.2" fill="#12a012"/><polygon points="323.4,171.7 325.92,174.5 323.4,177.3 320.88,174.5" fill="#fff" stroke="#12a012" stroke-width="0.7"/><polygon points="323.4,171.7 323.4,177.3 320.88,174.5" fill="#12a012"/><polygon points="329.3,166.5 331.82,169.3 329.3,172.1 326.78,169.3" fill="#fff" stroke="#12a012" stroke-width="0.7"/><polygon points="329.3,166.5 329.3,172.1 326.78,169.3" fill="#12a012"/><polygon points="335.3,160.8 337.82,163.6 335.3,166.4 332.78,163.6" fill="#fff" stroke="#12a012" stroke-width="0.7"/><polygon points="335.3,160.8 335.3,166.4 332.78,163.6" fill="#12a012"/><polygon points="340.5,254.8 343.02,257.6 340.5,260.4 337.98,257.6" fill="#fff" stroke="#12a012" stroke-width="0.7"/><polygon points="340.5,254.8 340.5,260.4 337.98,257.6" fill="#12a012"/><polygon points="346.4,260 348.92,262.8 346.4,265.6 343.88,262.8" fill="#fff" stroke="#12a012" stroke-width="0.7"/><polygon points="346.4,260 346.4,265.6 343.88,262.8" fill="#12a012"/><polygon points="352.8,263 355.32,265.8 352.8,268.6 350.28,265.8" fill="#fff" stroke="#12a012" stroke-width="0.7"/><polygon points="352.8,263 352.8,268.6 350.28,265.8" fill="#12a012"/><polygon points="358.8,265.5 361.32,268.3 358.8,271.1 356.28,268.3" fill="#fff" stroke="#12a012" stroke-width="0.7"/><polygon points="358.8,265.5 358.8,271.1 356.28,268.3" fill="#12a012"/><polygon points="364.7,266.4 367.22,269.2 364.7,272 362.18,269.2" fill="#fff" stroke="#12a012" stroke-width="0.7"/><polygon points="364.7,266.4 364.7,272 362.18,269.2" fill="#12a012"/><polygon points="370.7,267.1 373.22,269.9 370.7,272.7 368.18,269.9" fill="#fff" stroke="#12a012" stroke-width="0.7"/><polygon points="370.7,267.1 370.7,272.7 368.18,269.9" fill="#12a012"/><polygon points="376.6,268.2 379.12,271 376.6,273.8 374.08,271" fill="#fff" stroke="#12a012" stroke-width="0.7"/><polygon points="376.6,268.2 376.6,273.8 374.08,271" fill="#12a012"/><polygon points="382.5,269.7 385.02,272.5 382.5,275.3 379.98,272.5" fill="#fff" stroke="#12a012" stroke-width="0.7"/><polygon points="382.5,269.7 382.5,275.3 379.98,272.5" fill="#12a012"/><polygon points="388.5,270.4 391.02,273.2 388.5,276 385.98,273.2" fill="#fff" stroke="#12a012" stroke-width="0.7"/><polygon points="388.5,270.4 388.5,276 385.98,273.2" fill="#12a012"/></g><g clip-path="url(#c02)"><path d="M45,412 L50.8,408.2 L56.8,402.7 L62.7,397.3 L68.7,387.8 L74.9,367.6 L80.8,338.9 L86.8,301.3 L92.7,299.8 L98.4,298.8 L104.6,298.6 L110.3,299.8 L116.2,301.3 L122.2,314.7 L128.2,319.1 L133.8,313.5 L140.1,301.3 L146,296.8 L152,293.1 L157.6,371 L163.1,390.3 L169.5,388.6 L175.3,384.8 L181.4,391.1 L187.2,397 L192.8,397.8 L198.8,398.1" fill="none" stroke="#962096" stroke-width="0.9" stroke-linejoin="round"/><polygon points="42.9,409.9 47.1,409.9 47.1,414.1 42.9,414.1" fill="#8a008a"/><polygon points="48.7,406.1 52.9,406.1 52.9,410.3 48.7,410.3" fill="#8a008a"/><polygon points="54.7,400.6 58.9,400.6 58.9,404.8 54.7,404.8" fill="#8a008a"/><polygon points="60.6,395.2 64.8,395.2 64.8,399.4 60.6,399.4" fill="#8a008a"/><polygon points="66.6,385.7 70.8,385.7 70.8,389.9 66.6,389.9" fill="#8a008a"/><polygon points="72.8,365.5 77,365.5 77,369.7 72.8,369.7" fill="#8a008a"/><polygon points="78.7,336.8 82.9,336.8 82.9,341 78.7,341" fill="#8a008a"/><polygon points="84.7,299.2 88.9,299.2 88.9,303.4 84.7,303.4" fill="#8a008a"/><polygon points="90.6,297.7 94.8,297.7 94.8,301.9 90.6,301.9" fill="#8a008a"/><polygon points="96.3,296.7 100.5,296.7 100.5,300.9 96.3,300.9" fill="#8a008a"/><polygon points="102.5,296.5 106.7,296.5 106.7,300.7 102.5,300.7" fill="#8a008a"/><polygon points="108.2,297.7 112.4,297.7 112.4,301.9 108.2,301.9" fill="#8a008a"/><polygon points="114.1,299.2 118.3,299.2 118.3,303.4 114.1,303.4" fill="#8a008a"/><polygon points="120.1,312.6 124.3,312.6 124.3,316.8 120.1,316.8" fill="#8a008a"/><polygon points="126.1,317 130.3,317 130.3,321.2 126.1,321.2" fill="#8a008a"/><polygon points="131.7,311.4 135.9,311.4 135.9,315.6 131.7,315.6" fill="#8a008a"/><polygon points="138,299.2 142.2,299.2 142.2,303.4 138,303.4" fill="#8a008a"/><polygon points="143.9,294.7 148.1,294.7 148.1,298.9 143.9,298.9" fill="#8a008a"/><polygon points="149.9,291 154.1,291 154.1,295.2 149.9,295.2" fill="#8a008a"/><polygon points="155.5,368.9 159.7,368.9 159.7,373.1 155.5,373.1" fill="#8a008a"/><polygon points="161,388.2 165.2,388.2 165.2,392.4 161,392.4" fill="#8a008a"/><polygon points="167.4,386.5 171.6,386.5 171.6,390.7 167.4,390.7" fill="#8a008a"/><polygon points="173.2,382.7 177.4,382.7 177.4,386.9 173.2,386.9" fill="#8a008a"/><polygon points="179.3,389 183.5,389 183.5,393.2 179.3,393.2" fill="#8a008a"/><polygon points="185.1,394.9 189.3,394.9 189.3,399.1 185.1,399.1" fill="#8a008a"/><polygon points="190.7,395.7 194.9,395.7 194.9,399.9 190.7,399.9" fill="#8a008a"/><polygon points="196.7,396 200.9,396 200.9,400.2 196.7,400.2" fill="#8a008a"/></g><g clip-path="url(#c02)"><path d="M39,414 L44.9,409.2 L50.8,403.4 L56.8,395.8 L63,378.7 L69,350.6 L75.05,341.4 L80.8,335 L86.8,338 L92.7,336.2 L98.4,332.2 L104.6,326.3 L110.3,316.9 L116.2,301.3 L122.2,297.6 L128.2,294.6 L133.8,292.7 L140.1,290.1 L146,299.8 L152,302 L157.9,325.8 L163.1,390.3 L169.5,392.9 L175.3,394.8 L181.4,396 L187.2,397.3 L192.8,398.8 L198.8,400" fill="none" stroke="#8c8c8c" stroke-width="0.9" stroke-linejoin="round"/><circle cx="39" cy="414" r="2.35" fill="#888888"/><circle cx="44.9" cy="409.2" r="2.35" fill="#888888"/><circle cx="50.8" cy="403.4" r="2.35" fill="#888888"/><circle cx="56.8" cy="395.8" r="2.35" fill="#888888"/><circle cx="63" cy="378.7" r="2.35" fill="#888888"/><circle cx="69" cy="350.6" r="2.35" fill="#888888"/><circle cx="75.05" cy="341.4" r="2.35" fill="#888888"/><circle cx="80.8" cy="335" r="2.35" fill="#888888"/><circle cx="86.8" cy="338" r="2.35" fill="#888888"/><circle cx="92.7" cy="336.2" r="2.35" fill="#888888"/><circle cx="98.4" cy="332.2" r="2.35" fill="#888888"/><circle cx="104.6" cy="326.3" r="2.35" fill="#888888"/><circle cx="110.3" cy="316.9" r="2.35" fill="#888888"/><circle cx="116.2" cy="301.3" r="2.35" fill="#888888"/><circle cx="122.2" cy="297.6" r="2.35" fill="#888888"/><circle cx="128.2" cy="294.6" r="2.35" fill="#888888"/><circle cx="133.8" cy="292.7" r="2.35" fill="#888888"/><circle cx="140.1" cy="290.1" r="2.35" fill="#888888"/><circle cx="146" cy="299.8" r="2.35" fill="#888888"/><circle cx="152" cy="302" r="2.35" fill="#888888"/><circle cx="157.9" cy="325.8" r="2.35" fill="#888888"/><circle cx="163.1" cy="390.3" r="2.35" fill="#888888"/><circle cx="169.5" cy="392.9" r="2.35" fill="#888888"/><circle cx="175.3" cy="394.8" r="2.35" fill="#888888"/><circle cx="181.4" cy="396" r="2.35" fill="#888888"/><circle cx="187.2" cy="397.3" r="2.35" fill="#888888"/><circle cx="192.8" cy="398.8" r="2.35" fill="#888888"/><circle cx="198.8" cy="400" r="2.35" fill="#888888"/></g><g clip-path="url(#c12)"><path d="M228.6,409.7 L234.5,415 L239.5,415 L245.3,399.5 L252.4,392.9 L258.2,378.4 L264.3,355.4 L269.8,329.2 L275.5,297.9 L281.7,299.4 L287.3,299.4 L293.3,300.3 L299.2,301.3 L305.2,312 L311.1,315.4 L317.1,313.6 L323.1,307.2 L329,302.5 L335,299.8 L340.9,299.8 L346.9,295.6 L352.4,381.4 L358.8,384 L364.7,384 L370.7,387.4 L376.6,391.1 L382.5,401.2 L388.5,401.2" fill="none" stroke="#962096" stroke-width="0.9" stroke-linejoin="round"/><polygon points="226.5,407.6 230.7,407.6 230.7,411.8 226.5,411.8" fill="#fff" stroke="#8a008a" stroke-width="0.7"/><polygon points="226.5,407.6 228.6,407.6 228.6,411.8 226.5,411.8" fill="#8a008a"/><polygon points="232.4,412.9 236.6,412.9 236.6,417.1 232.4,417.1" fill="#fff" stroke="#8a008a" stroke-width="0.7"/><polygon points="232.4,412.9 234.5,412.9 234.5,417.1 232.4,417.1" fill="#8a008a"/><polygon points="237.4,412.9 241.6,412.9 241.6,417.1 237.4,417.1" fill="#fff" stroke="#8a008a" stroke-width="0.7"/><polygon points="237.4,412.9 239.5,412.9 239.5,417.1 237.4,417.1" fill="#8a008a"/><polygon points="243.2,397.4 247.4,397.4 247.4,401.6 243.2,401.6" fill="#fff" stroke="#8a008a" stroke-width="0.7"/><polygon points="243.2,397.4 245.3,397.4 245.3,401.6 243.2,401.6" fill="#8a008a"/><polygon points="250.3,390.8 254.5,390.8 254.5,395 250.3,395" fill="#fff" stroke="#8a008a" stroke-width="0.7"/><polygon points="250.3,390.8 252.4,390.8 252.4,395 250.3,395" fill="#8a008a"/><polygon points="256.1,376.3 260.3,376.3 260.3,380.5 256.1,380.5" fill="#fff" stroke="#8a008a" stroke-width="0.7"/><polygon points="256.1,376.3 258.2,376.3 258.2,380.5 256.1,380.5" fill="#8a008a"/><polygon points="262.2,353.3 266.4,353.3 266.4,357.5 262.2,357.5" fill="#fff" stroke="#8a008a" stroke-width="0.7"/><polygon points="262.2,353.3 264.3,353.3 264.3,357.5 262.2,357.5" fill="#8a008a"/><polygon points="267.7,327.1 271.9,327.1 271.9,331.3 267.7,331.3" fill="#fff" stroke="#8a008a" stroke-width="0.7"/><polygon points="267.7,327.1 269.8,327.1 269.8,331.3 267.7,331.3" fill="#8a008a"/><polygon points="273.4,295.8 277.6,295.8 277.6,300 273.4,300" fill="#fff" stroke="#8a008a" stroke-width="0.7"/><polygon points="273.4,295.8 275.5,295.8 275.5,300 273.4,300" fill="#8a008a"/><polygon points="279.6,297.3 283.8,297.3 283.8,301.5 279.6,301.5" fill="#fff" stroke="#8a008a" stroke-width="0.7"/><polygon points="279.6,297.3 281.7,297.3 281.7,301.5 279.6,301.5" fill="#8a008a"/><polygon points="285.2,297.3 289.4,297.3 289.4,301.5 285.2,301.5" fill="#fff" stroke="#8a008a" stroke-width="0.7"/><polygon points="285.2,297.3 287.3,297.3 287.3,301.5 285.2,301.5" fill="#8a008a"/><polygon points="291.2,298.2 295.4,298.2 295.4,302.4 291.2,302.4" fill="#fff" stroke="#8a008a" stroke-width="0.7"/><polygon points="291.2,298.2 293.3,298.2 293.3,302.4 291.2,302.4" fill="#8a008a"/><polygon points="297.1,299.2 301.3,299.2 301.3,303.4 297.1,303.4" fill="#fff" stroke="#8a008a" stroke-width="0.7"/><polygon points="297.1,299.2 299.2,299.2 299.2,303.4 297.1,303.4" fill="#8a008a"/><polygon points="303.1,309.9 307.3,309.9 307.3,314.1 303.1,314.1" fill="#fff" stroke="#8a008a" stroke-width="0.7"/><polygon points="303.1,309.9 305.2,309.9 305.2,314.1 303.1,314.1" fill="#8a008a"/><polygon points="309,313.3 313.2,313.3 313.2,317.5 309,317.5" fill="#fff" stroke="#8a008a" stroke-width="0.7"/><polygon points="309,313.3 311.1,313.3 311.1,317.5 309,317.5" fill="#8a008a"/><polygon points="315,311.5 319.2,311.5 319.2,315.7 315,315.7" fill="#fff" stroke="#8a008a" stroke-width="0.7"/><polygon points="315,311.5 317.1,311.5 317.1,315.7 315,315.7" fill="#8a008a"/><polygon points="321,305.1 325.2,305.1 325.2,309.3 321,309.3" fill="#fff" stroke="#8a008a" stroke-width="0.7"/><polygon points="321,305.1 323.1,305.1 323.1,309.3 321,309.3" fill="#8a008a"/><polygon points="326.9,300.4 331.1,300.4 331.1,304.6 326.9,304.6" fill="#fff" stroke="#8a008a" stroke-width="0.7"/><polygon points="326.9,300.4 329,300.4 329,304.6 326.9,304.6" fill="#8a008a"/><polygon points="332.9,297.7 337.1,297.7 337.1,301.9 332.9,301.9" fill="#fff" stroke="#8a008a" stroke-width="0.7"/><polygon points="332.9,297.7 335,297.7 335,301.9 332.9,301.9" fill="#8a008a"/><polygon points="338.8,297.7 343,297.7 343,301.9 338.8,301.9" fill="#fff" stroke="#8a008a" stroke-width="0.7"/><polygon points="338.8,297.7 340.9,297.7 340.9,301.9 338.8,301.9" fill="#8a008a"/><polygon points="344.8,293.5 349,293.5 349,297.7 344.8,297.7" fill="#fff" stroke="#8a008a" stroke-width="0.7"/><polygon points="344.8,293.5 346.9,293.5 346.9,297.7 344.8,297.7" fill="#8a008a"/><polygon points="350.3,379.3 354.5,379.3 354.5,383.5 350.3,383.5" fill="#fff" stroke="#8a008a" stroke-width="0.7"/><polygon points="350.3,379.3 352.4,379.3 352.4,383.5 350.3,383.5" fill="#8a008a"/><polygon points="356.7,381.9 360.9,381.9 360.9,386.1 356.7,386.1" fill="#fff" stroke="#8a008a" stroke-width="0.7"/><polygon points="356.7,381.9 358.8,381.9 358.8,386.1 356.7,386.1" fill="#8a008a"/><polygon points="362.6,381.9 366.8,381.9 366.8,386.1 362.6,386.1" fill="#fff" stroke="#8a008a" stroke-width="0.7"/><polygon points="362.6,381.9 364.7,381.9 364.7,386.1 362.6,386.1" fill="#8a008a"/><polygon points="368.6,385.3 372.8,385.3 372.8,389.5 368.6,389.5" fill="#fff" stroke="#8a008a" stroke-width="0.7"/><polygon points="368.6,385.3 370.7,385.3 370.7,389.5 368.6,389.5" fill="#8a008a"/><polygon points="374.5,389 378.7,389 378.7,393.2 374.5,393.2" fill="#fff" stroke="#8a008a" stroke-width="0.7"/><polygon points="374.5,389 376.6,389 376.6,393.2 374.5,393.2" fill="#8a008a"/><polygon points="380.4,399.1 384.6,399.1 384.6,403.3 380.4,403.3" fill="#fff" stroke="#8a008a" stroke-width="0.7"/><polygon points="380.4,399.1 382.5,399.1 382.5,403.3 380.4,403.3" fill="#8a008a"/><polygon points="386.4,399.1 390.6,399.1 390.6,403.3 386.4,403.3" fill="#fff" stroke="#8a008a" stroke-width="0.7"/><polygon points="386.4,399.1 388.5,399.1 388.5,403.3 386.4,403.3" fill="#8a008a"/></g><g clip-path="url(#c12)"><path d="M229,407.1 L233.5,416 L238.5,416 L240.8,404 L246,397.8 L252.4,380.7 L258.2,357.6 L264.3,351.7 L270.3,350.9 L275.7,354.2 L281.7,356.6 L287.6,357.2 L293.6,355.7 L299.5,353.2 L305.5,345.7 L311.4,331.3 L317.1,308.7 L323.1,302.8 L329,298.3 L335,296.5 L340.9,302 L346.9,302 L352.8,302.8 L359.1,325.5 L364.7,390.8 L370.7,395.8 L376.6,397.3 L382.5,398.2 L388.5,398.5" fill="none" stroke="#8c8c8c" stroke-width="0.9" stroke-linejoin="round"/><circle cx="229" cy="407.1" r="2.1" fill="#fff" stroke="#7a7a7a" stroke-width="0.7"/><path d="M229,405 A2.1,2.1 0 0 0 229,409.2 Z" fill="#7a7a7a"/><circle cx="233.5" cy="416" r="2.1" fill="#fff" stroke="#7a7a7a" stroke-width="0.7"/><path d="M233.5,413.9 A2.1,2.1 0 0 0 233.5,418.1 Z" fill="#7a7a7a"/><circle cx="238.5" cy="416" r="2.1" fill="#fff" stroke="#7a7a7a" stroke-width="0.7"/><path d="M238.5,413.9 A2.1,2.1 0 0 0 238.5,418.1 Z" fill="#7a7a7a"/><circle cx="240.8" cy="404" r="2.1" fill="#fff" stroke="#7a7a7a" stroke-width="0.7"/><path d="M240.8,401.9 A2.1,2.1 0 0 0 240.8,406.1 Z" fill="#7a7a7a"/><circle cx="246" cy="397.8" r="2.1" fill="#fff" stroke="#7a7a7a" stroke-width="0.7"/><path d="M246,395.7 A2.1,2.1 0 0 0 246,399.9 Z" fill="#7a7a7a"/><circle cx="252.4" cy="380.7" r="2.1" fill="#fff" stroke="#7a7a7a" stroke-width="0.7"/><path d="M252.4,378.6 A2.1,2.1 0 0 0 252.4,382.8 Z" fill="#7a7a7a"/><circle cx="258.2" cy="357.6" r="2.1" fill="#fff" stroke="#7a7a7a" stroke-width="0.7"/><path d="M258.2,355.5 A2.1,2.1 0 0 0 258.2,359.7 Z" fill="#7a7a7a"/><circle cx="264.3" cy="351.7" r="2.1" fill="#fff" stroke="#7a7a7a" stroke-width="0.7"/><path d="M264.3,349.6 A2.1,2.1 0 0 0 264.3,353.8 Z" fill="#7a7a7a"/><circle cx="270.3" cy="350.9" r="2.1" fill="#fff" stroke="#7a7a7a" stroke-width="0.7"/><path d="M270.3,348.8 A2.1,2.1 0 0 0 270.3,353 Z" fill="#7a7a7a"/><circle cx="275.7" cy="354.2" r="2.1" fill="#fff" stroke="#7a7a7a" stroke-width="0.7"/><path d="M275.7,352.1 A2.1,2.1 0 0 0 275.7,356.3 Z" fill="#7a7a7a"/><circle cx="281.7" cy="356.6" r="2.1" fill="#fff" stroke="#7a7a7a" stroke-width="0.7"/><path d="M281.7,354.5 A2.1,2.1 0 0 0 281.7,358.7 Z" fill="#7a7a7a"/><circle cx="287.6" cy="357.2" r="2.1" fill="#fff" stroke="#7a7a7a" stroke-width="0.7"/><path d="M287.6,355.1 A2.1,2.1 0 0 0 287.6,359.3 Z" fill="#7a7a7a"/><circle cx="293.6" cy="355.7" r="2.1" fill="#fff" stroke="#7a7a7a" stroke-width="0.7"/><path d="M293.6,353.6 A2.1,2.1 0 0 0 293.6,357.8 Z" fill="#7a7a7a"/><circle cx="299.5" cy="353.2" r="2.1" fill="#fff" stroke="#7a7a7a" stroke-width="0.7"/><path d="M299.5,351.1 A2.1,2.1 0 0 0 299.5,355.3 Z" fill="#7a7a7a"/><circle cx="305.5" cy="345.7" r="2.1" fill="#fff" stroke="#7a7a7a" stroke-width="0.7"/><path d="M305.5,343.6 A2.1,2.1 0 0 0 305.5,347.8 Z" fill="#7a7a7a"/><circle cx="311.4" cy="331.3" r="2.1" fill="#fff" stroke="#7a7a7a" stroke-width="0.7"/><path d="M311.4,329.2 A2.1,2.1 0 0 0 311.4,333.4 Z" fill="#7a7a7a"/><circle cx="317.1" cy="308.7" r="2.1" fill="#fff" stroke="#7a7a7a" stroke-width="0.7"/><path d="M317.1,306.6 A2.1,2.1 0 0 0 317.1,310.8 Z" fill="#7a7a7a"/><circle cx="323.1" cy="302.8" r="2.1" fill="#fff" stroke="#7a7a7a" stroke-width="0.7"/><path d="M323.1,300.7 A2.1,2.1 0 0 0 323.1,304.9 Z" fill="#7a7a7a"/><circle cx="329" cy="298.3" r="2.1" fill="#fff" stroke="#7a7a7a" stroke-width="0.7"/><path d="M329,296.2 A2.1,2.1 0 0 0 329,300.4 Z" fill="#7a7a7a"/><circle cx="335" cy="296.5" r="2.1" fill="#fff" stroke="#7a7a7a" stroke-width="0.7"/><path d="M335,294.4 A2.1,2.1 0 0 0 335,298.6 Z" fill="#7a7a7a"/><circle cx="340.9" cy="302" r="2.1" fill="#fff" stroke="#7a7a7a" stroke-width="0.7"/><path d="M340.9,299.9 A2.1,2.1 0 0 0 340.9,304.1 Z" fill="#7a7a7a"/><circle cx="346.9" cy="302" r="2.1" fill="#fff" stroke="#7a7a7a" stroke-width="0.7"/><path d="M346.9,299.9 A2.1,2.1 0 0 0 346.9,304.1 Z" fill="#7a7a7a"/><circle cx="352.8" cy="302.8" r="2.1" fill="#fff" stroke="#7a7a7a" stroke-width="0.7"/><path d="M352.8,300.7 A2.1,2.1 0 0 0 352.8,304.9 Z" fill="#7a7a7a"/><circle cx="359.1" cy="325.5" r="2.1" fill="#fff" stroke="#7a7a7a" stroke-width="0.7"/><path d="M359.1,323.4 A2.1,2.1 0 0 0 359.1,327.6 Z" fill="#7a7a7a"/><circle cx="364.7" cy="390.8" r="2.1" fill="#fff" stroke="#7a7a7a" stroke-width="0.7"/><path d="M364.7,388.7 A2.1,2.1 0 0 0 364.7,392.9 Z" fill="#7a7a7a"/><circle cx="370.7" cy="395.8" r="2.1" fill="#fff" stroke="#7a7a7a" stroke-width="0.7"/><path d="M370.7,393.7 A2.1,2.1 0 0 0 370.7,397.9 Z" fill="#7a7a7a"/><circle cx="376.6" cy="397.3" r="2.1" fill="#fff" stroke="#7a7a7a" stroke-width="0.7"/><path d="M376.6,395.2 A2.1,2.1 0 0 0 376.6,399.4 Z" fill="#7a7a7a"/><circle cx="382.5" cy="398.2" r="2.1" fill="#fff" stroke="#7a7a7a" stroke-width="0.7"/><path d="M382.5,396.1 A2.1,2.1 0 0 0 382.5,400.3 Z" fill="#7a7a7a"/><circle cx="388.5" cy="398.5" r="2.1" fill="#fff" stroke="#7a7a7a" stroke-width="0.7"/><path d="M388.5,396.4 A2.1,2.1 0 0 0 388.5,400.6 Z" fill="#7a7a7a"/></g><line x1="33.9" y1="15.3" x2="412.9" y2="15.3" stroke="#1a1a1a" stroke-width="1.1"/><line x1="33.9" y1="147.2" x2="412.9" y2="147.2" stroke="#1a1a1a" stroke-width="1.1"/><line x1="33.9" y1="279.2" x2="412.9" y2="279.2" stroke="#1a1a1a" stroke-width="1.1"/><line x1="33.9" y1="411.1" x2="412.9" y2="411.1" stroke="#1a1a1a" stroke-width="1.1"/><line x1="33.9" y1="15.3" x2="33.9" y2="411.1" stroke="#3a3a3a" stroke-width="1.3"/><line x1="223.4" y1="15.3" x2="223.4" y2="413.6" stroke="#1a1a1a" stroke-width="1.1"/><line x1="412.9" y1="15.3" x2="412.9" y2="413.6" stroke="#1a1a1a" stroke-width="1.1"/><line x1="463.9" y1="15.3" x2="653.3" y2="15.3" stroke="#1a1a1a" stroke-width="1.1"/><line x1="461.4" y1="147.2" x2="655.8" y2="147.2" stroke="#1a1a1a" stroke-width="1.1"/><line x1="461.4" y1="279.2" x2="655.8" y2="279.2" stroke="#1a1a1a" stroke-width="1.1"/><line x1="463.9" y1="411.1" x2="653.3" y2="411.1" stroke="#1a1a1a" stroke-width="1.1"/><line x1="463.9" y1="15.3" x2="463.9" y2="411.1" stroke="#3a3a3a" stroke-width="1.3"/><line x1="653.3" y1="15.3" x2="653.3" y2="411.1" stroke="#2a2a2a" stroke-width="1.1"/><line x1="31.4" y1="147.2" x2="33.9" y2="147.2" stroke="#222" stroke-width="0.9"/><line x1="31.4" y1="114.22" x2="33.9" y2="114.22" stroke="#222" stroke-width="0.9"/><line x1="31.4" y1="81.25" x2="33.9" y2="81.25" stroke="#222" stroke-width="0.9"/><line x1="31.4" y1="48.28" x2="33.9" y2="48.28" stroke="#222" stroke-width="0.9"/><line x1="31.4" y1="15.3" x2="33.9" y2="15.3" stroke="#222" stroke-width="0.9"/><line x1="31.4" y1="279.2" x2="33.9" y2="279.2" stroke="#222" stroke-width="0.9"/><line x1="31.4" y1="246.22" x2="33.9" y2="246.22" stroke="#222" stroke-width="0.9"/><line x1="31.4" y1="213.25" x2="33.9" y2="213.25" stroke="#222" stroke-width="0.9"/><line x1="31.4" y1="180.28" x2="33.9" y2="180.28" stroke="#222" stroke-width="0.9"/><line x1="31.4" y1="147.3" x2="33.9" y2="147.3" stroke="#222" stroke-width="0.9"/><line x1="31.4" y1="411.1" x2="33.9" y2="411.1" stroke="#222" stroke-width="0.9"/><line x1="31.4" y1="378.12" x2="33.9" y2="378.12" stroke="#222" stroke-width="0.9"/><line x1="31.4" y1="345.15" x2="33.9" y2="345.15" stroke="#222" stroke-width="0.9"/><line x1="31.4" y1="312.18" x2="33.9" y2="312.18" stroke="#222" stroke-width="0.9"/><line x1="31.4" y1="279.2" x2="33.9" y2="279.2" stroke="#222" stroke-width="0.9"/><line x1="57.58" y1="147.2" x2="57.58" y2="149.7" stroke="#222" stroke-width="0.9"/><line x1="81.26" y1="147.2" x2="81.26" y2="149.7" stroke="#222" stroke-width="0.9"/><line x1="104.94" y1="147.2" x2="104.94" y2="149.7" stroke="#222" stroke-width="0.9"/><line x1="128.62" y1="147.2" x2="128.62" y2="149.7" stroke="#222" stroke-width="0.9"/><line x1="152.3" y1="147.2" x2="152.3" y2="149.7" stroke="#222" stroke-width="0.9"/><line x1="175.98" y1="147.2" x2="175.98" y2="149.7" stroke="#222" stroke-width="0.9"/><line x1="199.66" y1="147.2" x2="199.66" y2="149.7" stroke="#222" stroke-width="0.9"/><line x1="247.08" y1="147.2" x2="247.08" y2="149.7" stroke="#222" stroke-width="0.9"/><line x1="270.76" y1="147.2" x2="270.76" y2="149.7" stroke="#222" stroke-width="0.9"/><line x1="294.44" y1="147.2" x2="294.44" y2="149.7" stroke="#222" stroke-width="0.9"/><line x1="318.12" y1="147.2" x2="318.12" y2="149.7" stroke="#222" stroke-width="0.9"/><line x1="341.8" y1="147.2" x2="341.8" y2="149.7" stroke="#222" stroke-width="0.9"/><line x1="365.48" y1="147.2" x2="365.48" y2="149.7" stroke="#222" stroke-width="0.9"/><line x1="389.16" y1="147.2" x2="389.16" y2="149.7" stroke="#222" stroke-width="0.9"/><line x1="57.58" y1="279.2" x2="57.58" y2="281.7" stroke="#222" stroke-width="0.9"/><line x1="81.26" y1="279.2" x2="81.26" y2="281.7" stroke="#222" stroke-width="0.9"/><line x1="104.94" y1="279.2" x2="104.94" y2="281.7" stroke="#222" stroke-width="0.9"/><line x1="128.62" y1="279.2" x2="128.62" y2="281.7" stroke="#222" stroke-width="0.9"/><line x1="152.3" y1="279.2" x2="152.3" y2="281.7" stroke="#222" stroke-width="0.9"/><line x1="175.98" y1="279.2" x2="175.98" y2="281.7" stroke="#222" stroke-width="0.9"/><line x1="199.66" y1="279.2" x2="199.66" y2="281.7" stroke="#222" stroke-width="0.9"/><line x1="247.08" y1="279.2" x2="247.08" y2="281.7" stroke="#222" stroke-width="0.9"/><line x1="270.76" y1="279.2" x2="270.76" y2="281.7" stroke="#222" stroke-width="0.9"/><line x1="294.44" y1="279.2" x2="294.44" y2="281.7" stroke="#222" stroke-width="0.9"/><line x1="318.12" y1="279.2" x2="318.12" y2="281.7" stroke="#222" stroke-width="0.9"/><line x1="341.8" y1="279.2" x2="341.8" y2="281.7" stroke="#222" stroke-width="0.9"/><line x1="365.48" y1="279.2" x2="365.48" y2="281.7" stroke="#222" stroke-width="0.9"/><line x1="389.16" y1="279.2" x2="389.16" y2="281.7" stroke="#222" stroke-width="0.9"/><line x1="57.58" y1="411.1" x2="57.58" y2="413.6" stroke="#222" stroke-width="0.9"/><line x1="81.26" y1="411.1" x2="81.26" y2="413.6" stroke="#222" stroke-width="0.9"/><line x1="104.94" y1="411.1" x2="104.94" y2="413.6" stroke="#222" stroke-width="0.9"/><line x1="128.62" y1="411.1" x2="128.62" y2="413.6" stroke="#222" stroke-width="0.9"/><line x1="152.3" y1="411.1" x2="152.3" y2="413.6" stroke="#222" stroke-width="0.9"/><line x1="175.98" y1="411.1" x2="175.98" y2="413.6" stroke="#222" stroke-width="0.9"/><line x1="199.66" y1="411.1" x2="199.66" y2="413.6" stroke="#222" stroke-width="0.9"/><line x1="247.08" y1="411.1" x2="247.08" y2="413.6" stroke="#222" stroke-width="0.9"/><line x1="270.76" y1="411.1" x2="270.76" y2="413.6" stroke="#222" stroke-width="0.9"/><line x1="294.44" y1="411.1" x2="294.44" y2="413.6" stroke="#222" stroke-width="0.9"/><line x1="318.12" y1="411.1" x2="318.12" y2="413.6" stroke="#222" stroke-width="0.9"/><line x1="341.8" y1="411.1" x2="341.8" y2="413.6" stroke="#222" stroke-width="0.9"/><line x1="365.48" y1="411.1" x2="365.48" y2="413.6" stroke="#222" stroke-width="0.9"/><line x1="389.16" y1="411.1" x2="389.16" y2="413.6" stroke="#222" stroke-width="0.9"/><line x1="461.4" y1="147.2" x2="463.9" y2="147.2" stroke="#222" stroke-width="0.9"/><line x1="653.3" y1="147.2" x2="655.8" y2="147.2" stroke="#222" stroke-width="0.9"/><line x1="461.4" y1="120.82" x2="463.9" y2="120.82" stroke="#222" stroke-width="0.9"/><line x1="653.3" y1="120.82" x2="655.8" y2="120.82" stroke="#222" stroke-width="0.9"/><line x1="461.4" y1="94.44" x2="463.9" y2="94.44" stroke="#222" stroke-width="0.9"/><line x1="653.3" y1="94.44" x2="655.8" y2="94.44" stroke="#222" stroke-width="0.9"/><line x1="461.4" y1="68.06" x2="463.9" y2="68.06" stroke="#222" stroke-width="0.9"/><line x1="653.3" y1="68.06" x2="655.8" y2="68.06" stroke="#222" stroke-width="0.9"/><line x1="461.4" y1="41.68" x2="463.9" y2="41.68" stroke="#222" stroke-width="0.9"/><line x1="653.3" y1="41.68" x2="655.8" y2="41.68" stroke="#222" stroke-width="0.9"/><line x1="461.4" y1="15.3" x2="463.9" y2="15.3" stroke="#222" stroke-width="0.9"/><line x1="653.3" y1="15.3" x2="655.8" y2="15.3" stroke="#222" stroke-width="0.9"/><line x1="512" y1="147.2" x2="512" y2="149.7" stroke="#222" stroke-width="0.9"/><line x1="606.3" y1="147.2" x2="606.3" y2="149.7" stroke="#222" stroke-width="0.9"/><line x1="461.4" y1="279.2" x2="463.9" y2="279.2" stroke="#222" stroke-width="0.9"/><line x1="653.3" y1="279.2" x2="655.8" y2="279.2" stroke="#222" stroke-width="0.9"/><line x1="461.4" y1="252.82" x2="463.9" y2="252.82" stroke="#222" stroke-width="0.9"/><line x1="653.3" y1="252.82" x2="655.8" y2="252.82" stroke="#222" stroke-width="0.9"/><line x1="461.4" y1="226.44" x2="463.9" y2="226.44" stroke="#222" stroke-width="0.9"/><line x1="653.3" y1="226.44" x2="655.8" y2="226.44" stroke="#222" stroke-width="0.9"/><line x1="461.4" y1="200.06" x2="463.9" y2="200.06" stroke="#222" stroke-width="0.9"/><line x1="653.3" y1="200.06" x2="655.8" y2="200.06" stroke="#222" stroke-width="0.9"/><line x1="461.4" y1="173.68" x2="463.9" y2="173.68" stroke="#222" stroke-width="0.9"/><line x1="653.3" y1="173.68" x2="655.8" y2="173.68" stroke="#222" stroke-width="0.9"/><line x1="461.4" y1="147.3" x2="463.9" y2="147.3" stroke="#222" stroke-width="0.9"/><line x1="653.3" y1="147.3" x2="655.8" y2="147.3" stroke="#222" stroke-width="0.9"/><line x1="512" y1="279.2" x2="512" y2="281.7" stroke="#222" stroke-width="0.9"/><line x1="606.3" y1="279.2" x2="606.3" y2="281.7" stroke="#222" stroke-width="0.9"/><line x1="461.4" y1="411.1" x2="463.9" y2="411.1" stroke="#222" stroke-width="0.9"/><line x1="653.3" y1="411.1" x2="655.8" y2="411.1" stroke="#222" stroke-width="0.9"/><line x1="461.4" y1="384.72" x2="463.9" y2="384.72" stroke="#222" stroke-width="0.9"/><line x1="653.3" y1="384.72" x2="655.8" y2="384.72" stroke="#222" stroke-width="0.9"/><line x1="461.4" y1="358.34" x2="463.9" y2="358.34" stroke="#222" stroke-width="0.9"/><line x1="653.3" y1="358.34" x2="655.8" y2="358.34" stroke="#222" stroke-width="0.9"/><line x1="461.4" y1="331.96" x2="463.9" y2="331.96" stroke="#222" stroke-width="0.9"/><line x1="653.3" y1="331.96" x2="655.8" y2="331.96" stroke="#222" stroke-width="0.9"/><line x1="461.4" y1="305.58" x2="463.9" y2="305.58" stroke="#222" stroke-width="0.9"/><line x1="653.3" y1="305.58" x2="655.8" y2="305.58" stroke="#222" stroke-width="0.9"/><line x1="461.4" y1="279.2" x2="463.9" y2="279.2" stroke="#222" stroke-width="0.9"/><line x1="653.3" y1="279.2" x2="655.8" y2="279.2" stroke="#222" stroke-width="0.9"/><line x1="512" y1="411.1" x2="512" y2="413.6" stroke="#222" stroke-width="0.9"/><line x1="606.3" y1="411.1" x2="606.3" y2="413.6" stroke="#222" stroke-width="0.9"/><text x="30.5" y="149.8" font-size="8.8" text-anchor="end" font-weight="normal" fill="#1a1a1a" stroke="#1a1a1a" stroke-width="0.15">0</text><text x="30.5" y="116.82" font-size="8.8" text-anchor="end" font-weight="normal" fill="#1a1a1a" stroke="#1a1a1a" stroke-width="0.15">20</text><text x="30.5" y="83.85" font-size="8.8" text-anchor="end" font-weight="normal" fill="#1a1a1a" stroke="#1a1a1a" stroke-width="0.15">40</text><text x="30.5" y="50.88" font-size="8.8" text-anchor="end" font-weight="normal" fill="#1a1a1a" stroke="#1a1a1a" stroke-width="0.15">60</text><text x="30.5" y="17.9" font-size="8.8" text-anchor="end" font-weight="normal" fill="#1a1a1a" stroke="#1a1a1a" stroke-width="0.15">80</text><text x="30.5" y="281.8" font-size="8.8" text-anchor="end" font-weight="normal" fill="#1a1a1a" stroke="#1a1a1a" stroke-width="0.15">0</text><text x="30.5" y="248.82" font-size="8.8" text-anchor="end" font-weight="normal" fill="#1a1a1a" stroke="#1a1a1a" stroke-width="0.15">20</text><text x="30.5" y="215.85" font-size="8.8" text-anchor="end" font-weight="normal" fill="#1a1a1a" stroke="#1a1a1a" stroke-width="0.15">40</text><text x="30.5" y="182.88" font-size="8.8" text-anchor="end" font-weight="normal" fill="#1a1a1a" stroke="#1a1a1a" stroke-width="0.15">60</text><text x="30.5" y="413.7" font-size="8.8" text-anchor="end" font-weight="normal" fill="#1a1a1a" stroke="#1a1a1a" stroke-width="0.15">0</text><text x="30.5" y="380.73" font-size="8.8" text-anchor="end" font-weight="normal" fill="#1a1a1a" stroke="#1a1a1a" stroke-width="0.15">20</text><text x="30.5" y="347.75" font-size="8.8" text-anchor="end" font-weight="normal" fill="#1a1a1a" stroke="#1a1a1a" stroke-width="0.15">40</text><text x="30.5" y="314.78" font-size="8.8" text-anchor="end" font-weight="normal" fill="#1a1a1a" stroke="#1a1a1a" stroke-width="0.15">60</text><text x="33.9" y="422.3" font-size="8.8" text-anchor="middle" font-weight="normal" fill="#1a1a1a" stroke="#1a1a1a" stroke-width="0.15">0</text><text x="57.58" y="422.3" font-size="8.8" text-anchor="middle" font-weight="normal" fill="#1a1a1a" stroke="#1a1a1a" stroke-width="0.15">2</text><text x="81.26" y="422.3" font-size="8.8" text-anchor="middle" font-weight="normal" fill="#1a1a1a" stroke="#1a1a1a" stroke-width="0.15">4</text><text x="104.94" y="422.3" font-size="8.8" text-anchor="middle" font-weight="normal" fill="#1a1a1a" stroke="#1a1a1a" stroke-width="0.15">6</text><text x="128.62" y="422.3" font-size="8.8" text-anchor="middle" font-weight="normal" fill="#1a1a1a" stroke="#1a1a1a" stroke-width="0.15">8</text><text x="152.3" y="422.3" font-size="8.8" text-anchor="middle" font-weight="normal" fill="#1a1a1a" stroke="#1a1a1a" stroke-width="0.15">10</text><text x="175.98" y="422.3" font-size="8.8" text-anchor="middle" font-weight="normal" fill="#1a1a1a" stroke="#1a1a1a" stroke-width="0.15">12</text><text x="199.66" y="422.3" font-size="8.8" text-anchor="middle" font-weight="normal" fill="#1a1a1a" stroke="#1a1a1a" stroke-width="0.15">14</text><text x="223.4" y="422.3" font-size="8.8" text-anchor="middle" font-weight="normal" fill="#1a1a1a" stroke="#1a1a1a" stroke-width="0.15">0</text><text x="247.08" y="422.3" font-size="8.8" text-anchor="middle" font-weight="normal" fill="#1a1a1a" stroke="#1a1a1a" stroke-width="0.15">2</text><text x="270.76" y="422.3" font-size="8.8" text-anchor="middle" font-weight="normal" fill="#1a1a1a" stroke="#1a1a1a" stroke-width="0.15">4</text><text x="294.44" y="422.3" font-size="8.8" text-anchor="middle" font-weight="normal" fill="#1a1a1a" stroke="#1a1a1a" stroke-width="0.15">6</text><text x="318.12" y="422.3" font-size="8.8" text-anchor="middle" font-weight="normal" fill="#1a1a1a" stroke="#1a1a1a" stroke-width="0.15">8</text><text x="341.8" y="422.3" font-size="8.8" text-anchor="middle" font-weight="normal" fill="#1a1a1a" stroke="#1a1a1a" stroke-width="0.15">10</text><text x="365.48" y="422.3" font-size="8.8" text-anchor="middle" font-weight="normal" fill="#1a1a1a" stroke="#1a1a1a" stroke-width="0.15">12</text><text x="389.16" y="422.3" font-size="8.8" text-anchor="middle" font-weight="normal" fill="#1a1a1a" stroke="#1a1a1a" stroke-width="0.15">14</text><text x="412.9" y="422.3" font-size="8.8" text-anchor="middle" font-weight="normal" fill="#1a1a1a" stroke="#1a1a1a" stroke-width="0.15">16</text><text x="460.5" y="149.7" font-size="8.8" text-anchor="end" font-weight="normal" fill="#1a1a1a" stroke="#1a1a1a" stroke-width="0.15">0.0</text><text x="657.1" y="149.7" font-size="8.8" text-anchor="start" font-weight="normal" fill="#1a1a1a" stroke="#1a1a1a" stroke-width="0.15">0</text><text x="460.5" y="123.32" font-size="8.8" text-anchor="end" font-weight="normal" fill="#1a1a1a" stroke="#1a1a1a" stroke-width="0.15">0.1</text><text x="657.1" y="123.32" font-size="8.8" text-anchor="start" font-weight="normal" fill="#1a1a1a" stroke="#1a1a1a" stroke-width="0.15">1</text><text x="460.5" y="96.94" font-size="8.8" text-anchor="end" font-weight="normal" fill="#1a1a1a" stroke="#1a1a1a" stroke-width="0.15">0.2</text><text x="657.1" y="96.94" font-size="8.8" text-anchor="start" font-weight="normal" fill="#1a1a1a" stroke="#1a1a1a" stroke-width="0.15">2</text><text x="460.5" y="70.56" font-size="8.8" text-anchor="end" font-weight="normal" fill="#1a1a1a" stroke="#1a1a1a" stroke-width="0.15">0.3</text><text x="657.1" y="70.56" font-size="8.8" text-anchor="start" font-weight="normal" fill="#1a1a1a" stroke="#1a1a1a" stroke-width="0.15">3</text><text x="460.5" y="44.18" font-size="8.8" text-anchor="end" font-weight="normal" fill="#1a1a1a" stroke="#1a1a1a" stroke-width="0.15">0.4</text><text x="657.1" y="44.18" font-size="8.8" text-anchor="start" font-weight="normal" fill="#1a1a1a" stroke="#1a1a1a" stroke-width="0.15">4</text><text x="460.5" y="17.8" font-size="8.8" text-anchor="end" font-weight="normal" fill="#1a1a1a" stroke="#1a1a1a" stroke-width="0.15">0.5</text><text x="657.1" y="17.8" font-size="8.8" text-anchor="start" font-weight="normal" fill="#1a1a1a" stroke="#1a1a1a" stroke-width="0.15">5</text><text x="460.5" y="281.7" font-size="8.8" text-anchor="end" font-weight="normal" fill="#1a1a1a" stroke="#1a1a1a" stroke-width="0.15">0.0</text><text x="657.1" y="281.7" font-size="8.8" text-anchor="start" font-weight="normal" fill="#1a1a1a" stroke="#1a1a1a" stroke-width="0.15">0</text><text x="460.5" y="255.32" font-size="8.8" text-anchor="end" font-weight="normal" fill="#1a1a1a" stroke="#1a1a1a" stroke-width="0.15">0.1</text><text x="657.1" y="255.32" font-size="8.8" text-anchor="start" font-weight="normal" fill="#1a1a1a" stroke="#1a1a1a" stroke-width="0.15">1</text><text x="460.5" y="228.94" font-size="8.8" text-anchor="end" font-weight="normal" fill="#1a1a1a" stroke="#1a1a1a" stroke-width="0.15">0.2</text><text x="657.1" y="228.94" font-size="8.8" text-anchor="start" font-weight="normal" fill="#1a1a1a" stroke="#1a1a1a" stroke-width="0.15">2</text><text x="460.5" y="202.56" font-size="8.8" text-anchor="end" font-weight="normal" fill="#1a1a1a" stroke="#1a1a1a" stroke-width="0.15">0.3</text><text x="657.1" y="202.56" font-size="8.8" text-anchor="start" font-weight="normal" fill="#1a1a1a" stroke="#1a1a1a" stroke-width="0.15">3</text><text x="460.5" y="176.18" font-size="8.8" text-anchor="end" font-weight="normal" fill="#1a1a1a" stroke="#1a1a1a" stroke-width="0.15">0.4</text><text x="657.1" y="176.18" font-size="8.8" text-anchor="start" font-weight="normal" fill="#1a1a1a" stroke="#1a1a1a" stroke-width="0.15">4</text><text x="460.5" y="413.6" font-size="8.8" text-anchor="end" font-weight="normal" fill="#1a1a1a" stroke="#1a1a1a" stroke-width="0.15">0.0</text><text x="657.1" y="413.6" font-size="8.8" text-anchor="start" font-weight="normal" fill="#1a1a1a" stroke="#1a1a1a" stroke-width="0.15">0</text><text x="460.5" y="387.22" font-size="8.8" text-anchor="end" font-weight="normal" fill="#1a1a1a" stroke="#1a1a1a" stroke-width="0.15">0.1</text><text x="657.1" y="387.22" font-size="8.8" text-anchor="start" font-weight="normal" fill="#1a1a1a" stroke="#1a1a1a" stroke-width="0.15">1</text><text x="460.5" y="360.84" font-size="8.8" text-anchor="end" font-weight="normal" fill="#1a1a1a" stroke="#1a1a1a" stroke-width="0.15">0.2</text><text x="657.1" y="360.84" font-size="8.8" text-anchor="start" font-weight="normal" fill="#1a1a1a" stroke="#1a1a1a" stroke-width="0.15">2</text><text x="460.5" y="334.46" font-size="8.8" text-anchor="end" font-weight="normal" fill="#1a1a1a" stroke="#1a1a1a" stroke-width="0.15">0.3</text><text x="657.1" y="334.46" font-size="8.8" text-anchor="start" font-weight="normal" fill="#1a1a1a" stroke="#1a1a1a" stroke-width="0.15">3</text><text x="460.5" y="308.08" font-size="8.8" text-anchor="end" font-weight="normal" fill="#1a1a1a" stroke="#1a1a1a" stroke-width="0.15">0.4</text><text x="657.1" y="308.08" font-size="8.8" text-anchor="start" font-weight="normal" fill="#1a1a1a" stroke="#1a1a1a" stroke-width="0.15">4</text><text x="511.6" y="422.3" font-size="8.8" text-anchor="middle" font-weight="normal" fill="#1a1a1a" stroke="#1a1a1a" stroke-width="0.15">HBD</text><text x="606" y="422.3" font-size="8.8" text-anchor="middle" font-weight="normal" fill="#1a1a1a" stroke="#1a1a1a" stroke-width="0.15">GDH</text><text x="131.6" y="10.7" font-size="12.3" text-anchor="middle" font-weight="normal" fill="#1a1a1a" stroke="#1a1a1a" stroke-width="0.15">HBD</text><text x="314.2" y="10.6" font-size="12.6" text-anchor="middle" font-weight="normal" fill="#1a1a1a" stroke="#1a1a1a" stroke-width="0.15">GDH</text><text x="37.1" y="31.2" font-size="14.5" text-anchor="start" font-weight="normal" fill="#111" stroke="#111" stroke-width="0.15">A</text><text x="226.6" y="31.2" font-size="14.5" text-anchor="start" font-weight="normal" fill="#111" stroke="#111" stroke-width="0.15">B</text><text x="466.6" y="31.2" font-size="14.5" text-anchor="start" font-weight="normal" fill="#111" stroke="#111" stroke-width="0.15">C</text><text x="37.3" y="162.6" font-size="14.5" text-anchor="start" font-weight="normal" fill="#111" stroke="#111" stroke-width="0.15">D</text><text x="226.6" y="162.6" font-size="14.5" text-anchor="start" font-weight="normal" fill="#111" stroke="#111" stroke-width="0.15">E</text><text x="466.6" y="162.6" font-size="14.5" text-anchor="start" font-weight="normal" fill="#111" stroke="#111" stroke-width="0.15">F</text><text x="37.1" y="294.8" font-size="14.5" text-anchor="start" font-weight="normal" fill="#111" stroke="#111" stroke-width="0.15">G</text><text x="226.6" y="294.8" font-size="14.5" text-anchor="start" font-weight="normal" fill="#111" stroke="#111" stroke-width="0.15">H</text><text x="467.4" y="294.8" font-size="14.5" text-anchor="start" font-weight="normal" fill="#111" stroke="#111" stroke-width="0.15">I</text><text x="75.3" y="440.9" font-size="11" text-anchor="start" font-weight="bold" fill="#111" stroke="#111" stroke-width="0.1">Cultivation time</text><text x="168" y="440.9" font-size="11" text-anchor="start" font-weight="bold" fill="#111" stroke="#111" stroke-width="0.1">[h]</text><text x="265.3" y="440.9" font-size="11" text-anchor="start" font-weight="bold" fill="#111" stroke="#111" stroke-width="0.1">Cultivation time</text><text x="358.7" y="440.9" font-size="11" text-anchor="start" font-weight="bold" fill="#111" stroke="#111" stroke-width="0.1">[h]</text><text x="538.3" y="440.9" font-size="11" text-anchor="start" font-weight="bold" fill="#111" stroke="#111" stroke-width="0.1">Enzyme</text><text transform="translate(10.2,296) rotate(-90)" x="0" y="0" font-size="11" font-weight="bold" fill="#111" stroke="#111" stroke-width="0.1">Oxygen transfer rate</text><text transform="translate(10.2,180.3) rotate(-90)" x="0" y="0" font-size="11" font-weight="bold" fill="#111" stroke="#111" stroke-width="0.1">[mmol/L/h]</text><text transform="translate(440,302) rotate(-90)" x="0" y="0" font-size="11" font-weight="bold" fill="#111" stroke="#111" stroke-width="0.1">Volumetric activity (HBD)</text><text transform="translate(440,157) rotate(-90)" x="0" y="0" font-size="11" font-weight="bold" fill="#111" stroke="#111" stroke-width="0.1">[U/mL]</text><text transform="translate(681.9,302) rotate(-90)" x="0" y="0" font-size="11" font-weight="bold" fill="#111" stroke="#111" stroke-width="0.1">Volumetric activity (GDH)</text><text transform="translate(681.9,157) rotate(-90)" x="0" y="0" font-size="11" font-weight="bold" fill="#111" stroke="#111" stroke-width="0.1">[U/mL]</text><line x1="159.6" y1="23.6" x2="178.4" y2="23.6" stroke="#6a6a6a" stroke-width="0.9"/><polygon points="166.8,21.5 171,21.5 171,25.7 166.8,25.7" fill="#5f5f5f"/><text x="180.4" y="26.35" font-size="8.4" text-anchor="start" font-weight="normal" fill="#1a1a1a" stroke="#1a1a1a" stroke-width="0.15">AppliChem</text><line x1="159.6" y1="33.6" x2="178.4" y2="33.6" stroke="#a550f5" stroke-width="0.9"/><circle cx="168.9" cy="33.6" r="2.35" fill="#9a3cfa"/><text x="180.4" y="36.35" font-size="8.4" text-anchor="start" font-weight="normal" fill="#1a1a1a" stroke="#1a1a1a" stroke-width="0.15">Merck</text><line x1="159.6" y1="43.7" x2="178.4" y2="43.7" stroke="#ef8a3a" stroke-width="0.9"/><polygon points="168.9,41 171.6,45.73 166.2,45.73" fill="#f07308"/><text x="180.4" y="46.45" font-size="8.4" text-anchor="start" font-weight="normal" fill="#1a1a1a" stroke="#1a1a1a" stroke-width="0.15">DSM</text><line x1="159.6" y1="53.8" x2="178.4" y2="53.8" stroke="#3a3aa8" stroke-width="0.9"/><polygon points="168.9,51 171.42,53.8 168.9,56.6 166.38,53.8" fill="#0303a2"/><text x="180.4" y="56.55" font-size="8.4" text-anchor="start" font-weight="normal" fill="#1a1a1a" stroke="#1a1a1a" stroke-width="0.15">Difco</text><line x1="349.4" y1="23.6" x2="368" y2="23.6" stroke="#6a6a6a" stroke-width="0.9"/><polygon points="356.4,21.5 360.6,21.5 360.6,25.7 356.4,25.7" fill="#fff" stroke="#555" stroke-width="0.7"/><polygon points="356.4,21.5 358.5,21.5 358.5,25.7 356.4,25.7" fill="#555"/><text x="370.4" y="26.35" font-size="8.4" text-anchor="start" font-weight="normal" fill="#1a1a1a" stroke="#1a1a1a" stroke-width="0.15">AppliChem</text><line x1="349.4" y1="33.6" x2="368" y2="33.6" stroke="#a550f5" stroke-width="0.9"/><circle cx="358.5" cy="33.6" r="2.1" fill="#fff" stroke="#9a3cfa" stroke-width="0.7"/><path d="M358.5,31.5 A2.1,2.1 0 0 0 358.5,35.7 Z" fill="#9a3cfa"/><text x="370.4" y="36.35" font-size="8.4" text-anchor="start" font-weight="normal" fill="#1a1a1a" stroke="#1a1a1a" stroke-width="0.15">Merck</text><line x1="349.4" y1="43.7" x2="368" y2="43.7" stroke="#ef8a3a" stroke-width="0.9"/><polygon points="358.5,41 361.2,45.73 355.8,45.73" fill="#fff" stroke="#f07308" stroke-width="0.7"/><polygon points="358.5,41 358.5,45.73 355.8,45.73" fill="#f07308"/><text x="370.4" y="46.45" font-size="8.4" text-anchor="start" font-weight="normal" fill="#1a1a1a" stroke="#1a1a1a" stroke-width="0.15">DSM</text><line x1="349.4" y1="53.8" x2="368" y2="53.8" stroke="#3a3aa8" stroke-width="0.9"/><polygon points="358.5,51 361.02,53.8 358.5,56.6 355.98,53.8" fill="#fff" stroke="#0303a2" stroke-width="0.7"/><polygon points="358.5,51 358.5,56.6 355.98,53.8" fill="#0303a2"/><text x="370.4" y="56.55" font-size="8.4" text-anchor="start" font-weight="normal" fill="#1a1a1a" stroke="#1a1a1a" stroke-width="0.15">Difco</text><line x1="172" y1="155.9" x2="190.6" y2="155.9" stroke="#333333" stroke-width="0.9"/><polygon points="179.3,153.8 183.5,153.8 183.5,158 179.3,158" fill="#000000"/><text x="192.8" y="158.65" font-size="8.4" text-anchor="start" font-weight="normal" fill="#1a1a1a" stroke="#1a1a1a" stroke-width="0.15">Roth_1</text><line x1="172" y1="166" x2="190.6" y2="166" stroke="#dd3333" stroke-width="0.9"/><circle cx="181.4" cy="166" r="2.35" fill="#d10000"/><text x="192.8" y="168.75" font-size="8.4" text-anchor="start" font-weight="normal" fill="#1a1a1a" stroke="#1a1a1a" stroke-width="0.15">Roth_2</text><line x1="172" y1="176.1" x2="190.6" y2="176.1" stroke="#3aa6dc" stroke-width="0.9"/><polygon points="181.4,173.4 184.1,178.12 178.7,178.12" fill="#1f9cd9"/><text x="192.8" y="178.85" font-size="8.4" text-anchor="start" font-weight="normal" fill="#1a1a1a" stroke="#1a1a1a" stroke-width="0.15">Roth_3</text><line x1="172" y1="186.1" x2="190.6" y2="186.1" stroke="#2aa82a" stroke-width="0.9"/><polygon points="181.4,183.3 183.92,186.1 181.4,188.9 178.88,186.1" fill="#12a012"/><text x="192.8" y="188.85" font-size="8.4" text-anchor="start" font-weight="normal" fill="#1a1a1a" stroke="#1a1a1a" stroke-width="0.15">Roth_4</text><line x1="361.3" y1="155.9" x2="379.9" y2="155.9" stroke="#333333" stroke-width="0.9"/><polygon points="368.6,153.8 372.8,153.8 372.8,158 368.6,158" fill="#fff" stroke="#000000" stroke-width="0.7"/><polygon points="368.6,153.8 370.7,153.8 370.7,158 368.6,158" fill="#000000"/><text x="382.5" y="158.65" font-size="8.4" text-anchor="start" font-weight="normal" fill="#1a1a1a" stroke="#1a1a1a" stroke-width="0.15">Roth_1</text><line x1="361.3" y1="166" x2="379.9" y2="166" stroke="#dd3333" stroke-width="0.9"/><circle cx="370.7" cy="166" r="2.1" fill="#fff" stroke="#d10000" stroke-width="0.7"/><path d="M370.7,163.9 A2.1,2.1 0 0 0 370.7,168.1 Z" fill="#d10000"/><text x="382.5" y="168.75" font-size="8.4" text-anchor="start" font-weight="normal" fill="#1a1a1a" stroke="#1a1a1a" stroke-width="0.15">Roth_2</text><line x1="361.3" y1="176.1" x2="379.9" y2="176.1" stroke="#3aa6dc" stroke-width="0.9"/><polygon points="370.7,173.4 373.4,178.12 368,178.12" fill="#fff" stroke="#1f9cd9" stroke-width="0.7"/><polygon points="370.7,173.4 370.7,178.12 368,178.12" fill="#1f9cd9"/><text x="382.5" y="178.85" font-size="8.4" text-anchor="start" font-weight="normal" fill="#1a1a1a" stroke="#1a1a1a" stroke-width="0.15">Roth_3</text><line x1="361.3" y1="186.1" x2="379.9" y2="186.1" stroke="#2aa82a" stroke-width="0.9"/><polygon points="370.7,183.3 373.22,186.1 370.7,188.9 368.18,186.1" fill="#fff" stroke="#12a012" stroke-width="0.7"/><polygon points="370.7,183.3 370.7,188.9 368.18,186.1" fill="#12a012"/><text x="382.5" y="188.85" font-size="8.4" text-anchor="start" font-weight="normal" fill="#1a1a1a" stroke="#1a1a1a" stroke-width="0.15">Roth_4</text><line x1="170.5" y1="288.7" x2="188.4" y2="288.7" stroke="#962096" stroke-width="0.9"/><polygon points="177.1,286.6 181.3,286.6 181.3,290.8 177.1,290.8" fill="#8a008a"/><text x="191" y="291.45" font-size="8.4" text-anchor="start" font-weight="normal" fill="#1a1a1a" stroke="#1a1a1a" stroke-width="0.15">OnEx_1</text><line x1="170.5" y1="298.8" x2="188.4" y2="298.8" stroke="#8c8c8c" stroke-width="0.9"/><circle cx="179.2" cy="298.8" r="2.35" fill="#888888"/><text x="191" y="301.55" font-size="8.4" text-anchor="start" font-weight="normal" fill="#1a1a1a" stroke="#1a1a1a" stroke-width="0.15">OnEx_2</text><line x1="359" y1="287.4" x2="377.6" y2="287.4" stroke="#962096" stroke-width="0.9"/><polygon points="366.2,285.3 370.4,285.3 370.4,289.5 366.2,289.5" fill="#fff" stroke="#8a008a" stroke-width="0.7"/><polygon points="366.2,285.3 368.3,285.3 368.3,289.5 366.2,289.5" fill="#8a008a"/><text x="379.9" y="290.15" font-size="8.4" text-anchor="start" font-weight="normal" fill="#1a1a1a" stroke="#1a1a1a" stroke-width="0.15">OnEx_1</text><line x1="359" y1="297.3" x2="377.6" y2="297.3" stroke="#8c8c8c" stroke-width="0.9"/><circle cx="368.3" cy="297.3" r="2.1" fill="#fff" stroke="#7a7a7a" stroke-width="0.7"/><path d="M368.3,295.2 A2.1,2.1 0 0 0 368.3,299.4 Z" fill="#7a7a7a"/><text x="379.9" y="300.05" font-size="8.4" text-anchor="start" font-weight="normal" fill="#1a1a1a" stroke="#1a1a1a" stroke-width="0.15">OnEx_2</text><rect x="479" y="62.5" width="16.6" height="84.7" fill="#5f5f5f" stroke="#1e1e1e" stroke-width="0.8"/><path d="M487.3,60.6 L487.3,64.4 M485.7,60.6 L488.9,60.6 M485.7,64.4 L488.9,64.4" stroke="#111" stroke-width="0.8" fill="none"/><rect x="495.6" y="91.1" width="16.6" height="56.1" fill="#9a3cfa" stroke="#1e1e1e" stroke-width="0.8"/><path d="M503.9,89.4 L503.9,92.8 M502.3,89.4 L505.5,89.4 M502.3,92.8 L505.5,92.8" stroke="#111" stroke-width="0.8" fill="none"/><rect x="512.2" y="120.4" width="16.6" height="26.8" fill="#f07308" stroke="#1e1e1e" stroke-width="0.8"/><path d="M520.5,119.2 L520.5,121.6 M518.9,119.2 L522.1,119.2 M518.9,121.6 L522.1,121.6" stroke="#111" stroke-width="0.8" fill="none"/><rect x="528.8" y="112.2" width="16.6" height="35" fill="#0303a2" stroke="#1e1e1e" stroke-width="0.8"/><path d="M537.1,108.6 L537.1,115.8 M535.5,108.6 L538.7,108.6 M535.5,115.8 L538.7,115.8" stroke="#111" stroke-width="0.8" fill="none"/><rect x="573" y="108" width="16.6" height="39.2" fill="url(#hGray)" stroke="#1e1e1e" stroke-width="0.8"/><path d="M581.3,103.4 L581.3,112.6 M579.7,103.4 L582.9,103.4 M579.7,112.6 L582.9,112.6" stroke="#111" stroke-width="0.8" fill="none"/><rect x="589.6" y="122.3" width="16.6" height="24.9" fill="url(#hVio)" stroke="#1e1e1e" stroke-width="0.8"/><path d="M597.9,120 L597.9,124.6 M596.3,120 L599.5,120 M596.3,124.6 L599.5,124.6" stroke="#111" stroke-width="0.8" fill="none"/><rect x="606.2" y="144.6" width="16.6" height="2.6" fill="url(#hOra)" stroke="#1e1e1e" stroke-width="0.8"/><path d="M614.5,143 L614.5,146.2 M612.9,143 L616.1,143 M612.9,146.2 L616.1,146.2" stroke="#111" stroke-width="0.8" fill="none"/><rect x="622.8" y="117.1" width="16.6" height="30.1" fill="url(#hNav)" stroke="#1e1e1e" stroke-width="0.8"/><path d="M631.1,111.9 L631.1,122.3 M629.5,111.9 L632.7,111.9 M629.5,122.3 L632.7,122.3" stroke="#111" stroke-width="0.8" fill="none"/><rect x="479" y="251.7" width="16.6" height="27.5" fill="#000000" stroke="#1e1e1e" stroke-width="0.8"/><path d="M487.3,248.3 L487.3,255.1 M485.7,248.3 L488.9,248.3 M485.7,255.1 L488.9,255.1" stroke="#111" stroke-width="0.8" fill="none"/><rect x="495.6" y="217.9" width="16.6" height="61.3" fill="#d10000" stroke="#1e1e1e" stroke-width="0.8"/><path d="M503.9,213 L503.9,222.8 M502.3,213 L505.5,213 M502.3,222.8 L505.5,222.8" stroke="#111" stroke-width="0.8" fill="none"/><rect x="512.2" y="252" width="16.6" height="27.2" fill="#1f9cd9" stroke="#1e1e1e" stroke-width="0.8"/><path d="M520.5,250.2 L520.5,253.8 M518.9,250.2 L522.1,250.2 M518.9,253.8 L522.1,253.8" stroke="#111" stroke-width="0.8" fill="none"/><rect x="528.8" y="250.9" width="16.6" height="28.3" fill="#12a012" stroke="#1e1e1e" stroke-width="0.8"/><path d="M537.1,244.2 L537.1,257.6 M535.5,244.2 L538.7,244.2 M535.5,257.6 L538.7,257.6" stroke="#111" stroke-width="0.8" fill="none"/><rect x="573" y="263.1" width="16.6" height="16.1" fill="url(#hBlk)" stroke="#1e1e1e" stroke-width="0.8"/><path d="M581.3,261.6 L581.3,264.6 M579.7,261.6 L582.9,261.6 M579.7,264.6 L582.9,264.6" stroke="#111" stroke-width="0.8" fill="none"/><rect x="589.6" y="249.1" width="16.6" height="30.1" fill="url(#hRed)" stroke="#1e1e1e" stroke-width="0.8"/><path d="M597.9,247.6 L597.9,250.6 M596.3,247.6 L599.5,247.6 M596.3,250.6 L599.5,250.6" stroke="#111" stroke-width="0.8" fill="none"/><rect x="606.2" y="265.3" width="16.6" height="13.9" fill="url(#hCya)" stroke="#1e1e1e" stroke-width="0.8"/><path d="M614.5,264.6 L614.5,266 M612.9,264.6 L616.1,264.6 M612.9,266 L616.1,266" stroke="#111" stroke-width="0.8" fill="none"/><rect x="622.8" y="269.8" width="16.6" height="9.4" fill="url(#hGrn)" stroke="#1e1e1e" stroke-width="0.8"/><path d="M631.1,269 L631.1,270.6 M629.5,269 L632.7,269 M629.5,270.6 L632.7,270.6" stroke="#111" stroke-width="0.8" fill="none"/><rect x="492.5" y="310" width="19" height="101.1" fill="#8a008a" stroke="#1e1e1e" stroke-width="0.8"/><path d="M502,309.6 L502,310.4 M500.4,309.6 L503.6,309.6 M500.4,310.4 L503.6,310.4" stroke="#111" stroke-width="0.8" fill="none"/><rect x="511.5" y="336.3" width="19" height="74.8" fill="#888888" stroke="#1e1e1e" stroke-width="0.8"/><path d="M521,335.9 L521,336.7 M519.4,335.9 L522.6,335.9 M519.4,336.7 L522.6,336.7" stroke="#111" stroke-width="0.8" fill="none"/><rect x="587.3" y="377.5" width="19" height="33.6" fill="url(#hMag)" stroke="#1e1e1e" stroke-width="0.8"/><path d="M596.8,373 L596.8,382 M595.2,373 L598.4,373 M595.2,382 L598.4,382" stroke="#111" stroke-width="0.8" fill="none"/><rect x="606.3" y="298.8" width="19" height="112.3" fill="url(#hGr2)" stroke="#1e1e1e" stroke-width="0.8"/><path d="M615.8,298.4 L615.8,299.2 M614.2,298.4 L617.4,298.4 M614.2,299.2 L617.4,299.2" stroke="#111" stroke-width="0.8" fill="none"/><line x1="559.5" y1="64.2" x2="559.5" y2="147.2" stroke="#111" stroke-width="1.5" stroke-dasharray="5.1,4.2"/><line x1="559.5" y1="196.2" x2="559.5" y2="279.2" stroke="#111" stroke-width="1.5" stroke-dasharray="5.1,4.2"/><line x1="559.5" y1="312.8" x2="559.5" y2="411.1" stroke="#111" stroke-width="1.5" stroke-dasharray="5.1,4.2"/><rect x="528.4" y="19.7" width="12.6" height="5.8" fill="#5f5f5f" stroke="#1e1e1e" stroke-width="0.7"/><rect x="544.7" y="19.7" width="12.6" height="5.8" fill="url(#hGray)" stroke="#1e1e1e" stroke-width="0.7"/><text x="561.4" y="25.2" font-size="8.4" text-anchor="start" font-weight="normal" fill="#1a1a1a" stroke="#1a1a1a" stroke-width="0.15">AppliChem</text><rect x="528.4" y="30" width="12.6" height="5.8" fill="#9a3cfa" stroke="#1e1e1e" stroke-width="0.7"/><rect x="544.7" y="30" width="12.6" height="5.8" fill="url(#hVio)" stroke="#1e1e1e" stroke-width="0.7"/><text x="561.4" y="35.5" font-size="8.4" text-anchor="start" font-weight="normal" fill="#1a1a1a" stroke="#1a1a1a" stroke-width="0.15">Merck</text><rect x="528.4" y="40.1" width="12.6" height="5.8" fill="#f07308" stroke="#1e1e1e" stroke-width="0.7"/><rect x="544.7" y="40.1" width="12.6" height="5.8" fill="url(#hOra)" stroke="#1e1e1e" stroke-width="0.7"/><text x="561.4" y="45.6" font-size="8.4" text-anchor="start" font-weight="normal" fill="#1a1a1a" stroke="#1a1a1a" stroke-width="0.15">DSM</text><rect x="528.4" y="49.9" width="12.6" height="5.8" fill="#0303a2" stroke="#1e1e1e" stroke-width="0.7"/><rect x="544.7" y="49.9" width="12.6" height="5.8" fill="url(#hNav)" stroke="#1e1e1e" stroke-width="0.7"/><text x="561.4" y="55.4" font-size="8.4" text-anchor="start" font-weight="normal" fill="#1a1a1a" stroke="#1a1a1a" stroke-width="0.15">Difco</text><rect x="530.1" y="154.1" width="12.6" height="5.8" fill="#000000" stroke="#1e1e1e" stroke-width="0.7"/><rect x="545.3" y="154.1" width="12.6" height="5.8" fill="url(#hBlk)" stroke="#1e1e1e" stroke-width="0.7"/><text x="562" y="159.6" font-size="8.4" text-anchor="start" font-weight="normal" fill="#1a1a1a" stroke="#1a1a1a" stroke-width="0.15">Roth_1</text><rect x="530.1" y="164.2" width="12.6" height="5.8" fill="#d10000" stroke="#1e1e1e" stroke-width="0.7"/><rect x="545.3" y="164.2" width="12.6" height="5.8" fill="url(#hRed)" stroke="#1e1e1e" stroke-width="0.7"/><text x="562" y="169.7" font-size="8.4" text-anchor="start" font-weight="normal" fill="#1a1a1a" stroke="#1a1a1a" stroke-width="0.15">Roth_2</text><rect x="530.1" y="174.2" width="12.6" height="5.8" fill="#1f9cd9" stroke="#1e1e1e" stroke-width="0.7"/><rect x="545.3" y="174.2" width="12.6" height="5.8" fill="url(#hCya)" stroke="#1e1e1e" stroke-width="0.7"/><text x="562" y="179.7" font-size="8.4" text-anchor="start" font-weight="normal" fill="#1a1a1a" stroke="#1a1a1a" stroke-width="0.15">Roth_3</text><rect x="530.1" y="184.2" width="12.6" height="5.8" fill="#12a012" stroke="#1e1e1e" stroke-width="0.7"/><rect x="545.3" y="184.2" width="12.6" height="5.8" fill="url(#hGrn)" stroke="#1e1e1e" stroke-width="0.7"/><text x="562" y="189.7" font-size="8.4" text-anchor="start" font-weight="normal" fill="#1a1a1a" stroke="#1a1a1a" stroke-width="0.15">Roth_4</text><rect x="529.3" y="286.4" width="12.6" height="5.8" fill="#8a008a" stroke="#1e1e1e" stroke-width="0.7"/><rect x="544.3" y="286.4" width="12.6" height="5.8" fill="url(#hMag)" stroke="#1e1e1e" stroke-width="0.7"/><text x="560.8" y="291.9" font-size="8.4" text-anchor="start" font-weight="normal" fill="#1a1a1a" stroke="#1a1a1a" stroke-width="0.15">OnEx_1</text><rect x="529.3" y="296.4" width="12.6" height="5.8" fill="#888888" stroke="#1e1e1e" stroke-width="0.7"/><rect x="544.3" y="296.4" width="12.6" height="5.8" fill="url(#hGr2)" stroke="#1e1e1e" stroke-width="0.7"/><text x="560.8" y="301.9" font-size="8.4" text-anchor="start" font-weight="normal" fill="#1a1a1a" stroke="#1a1a1a" stroke-width="0.15">OnEx_2</text></svg>
</body></html>
